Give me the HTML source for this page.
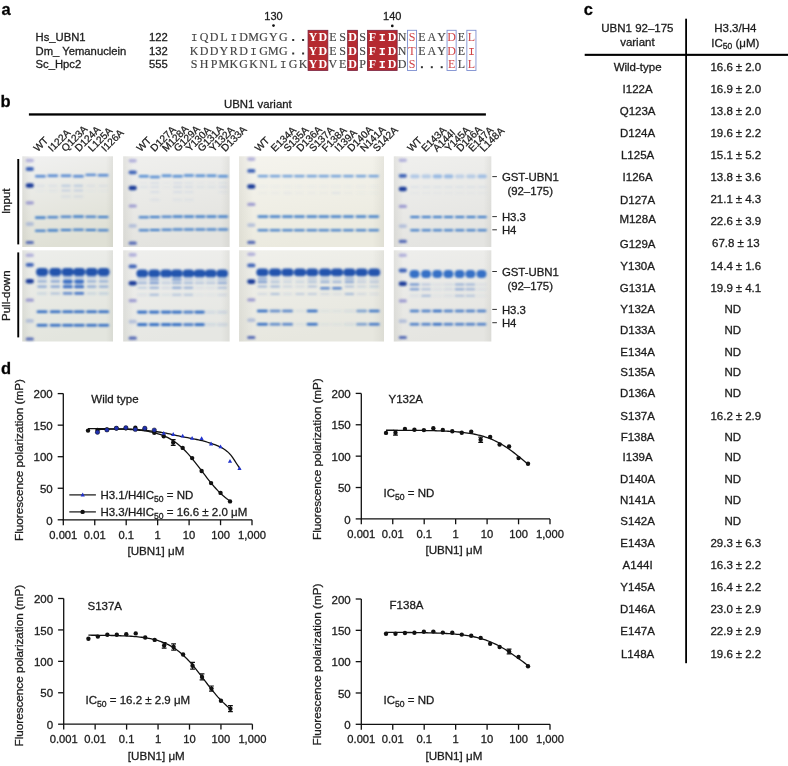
<!DOCTYPE html><html><head><meta charset="utf-8"><style>html,body{margin:0;padding:0;background:#fff;}svg{display:block;filter:blur(0.35px);}text{stroke:#1c1c1c;stroke-width:0.3px;}.ns text{stroke:none;}.lt text{stroke-width:0.25px;}</style></head><body>
<svg width="788" height="766" viewBox="0 0 788 766" font-family="'Liberation Sans', Arial, sans-serif" fill="#1c1c1c">
<defs><linearGradient id="vig" x1="0" y1="0" x2="1" y2="0"><stop offset="0" stop-color="#9a9a90" stop-opacity="0.16"/><stop offset="0.1" stop-color="#9a9a90" stop-opacity="0"/><stop offset="0.92" stop-color="#9a9a90" stop-opacity="0"/><stop offset="1" stop-color="#9a9a90" stop-opacity="0.14"/></linearGradient><filter id="blur" x="-20%" y="-20%" width="140%" height="140%"><feGaussianBlur stdDeviation="0.95"/></filter></defs>
<rect width="788" height="766" fill="#fff"/>
<text x="1.5" y="14.9" font-size="16.5" font-weight="bold" fill="#000">a</text>
<text x="35.6" y="41.2" font-size="11.25">Hs_UBN1</text>
<text x="167.9" y="41.2" font-size="11.25" text-anchor="end">122</text>
<text x="35.6" y="54.6" font-size="11.25">Dm_ Yemanuclein</text>
<text x="167.9" y="54.6" font-size="11.25" text-anchor="end">132</text>
<text x="35.6" y="68.0" font-size="11.25">Sc_Hpc2</text>
<text x="167.9" y="68.0" font-size="11.25" text-anchor="end">555</text>
<text x="273.5" y="19.8" font-size="11" text-anchor="middle">130</text>
<text x="392.3" y="20.0" font-size="11" text-anchor="middle">140</text>
<circle cx="273.5" cy="25.6" r="1.35" fill="#111"/>
<circle cx="392.3" cy="25.9" r="1.35" fill="#111"/>
<rect x="308.05" y="30.3" width="19.80" height="40.20" fill="#b52a30" stroke="#7a2440" stroke-width="0.8"/>
<rect x="347.65" y="30.3" width="9.90" height="40.20" fill="#b52a30" stroke="#7a2440" stroke-width="0.8"/>
<rect x="367.45" y="30.3" width="29.70" height="40.20" fill="#b52a30" stroke="#7a2440" stroke-width="0.8"/>
<rect x="407.45" y="30.3" width="9.10" height="40.20" fill="none" stroke="#7d8fd0" stroke-width="0.9"/>
<rect x="447.05" y="30.3" width="9.10" height="40.20" fill="none" stroke="#7d8fd0" stroke-width="0.9"/>
<rect x="466.85" y="30.3" width="9.10" height="40.20" fill="none" stroke="#7d8fd0" stroke-width="0.9"/>
<g transform="scale(1.0,1)" font-family="'Liberation Serif', 'Times New Roman', serif" font-size="12.0" text-anchor="middle" class="ns">
<text x="194.20" y="41.0" fill="#444" font-family="'Liberation Mono', 'Courier New', monospace" font-size="11.7">I</text>
<text x="204.10" y="41.0" fill="#444" style="stroke:#444;stroke-width:0.15px">Q</text>
<text x="214.00" y="41.0" fill="#444" style="stroke:#444;stroke-width:0.15px">D</text>
<text x="223.90" y="41.0" fill="#444" style="stroke:#444;stroke-width:0.15px">L</text>
<text x="233.80" y="41.0" fill="#444" font-family="'Liberation Mono', 'Courier New', monospace" font-size="11.7">I</text>
<text x="243.70" y="41.0" fill="#444" style="stroke:#444;stroke-width:0.15px">D</text>
<text x="253.60" y="41.0" fill="#444" style="stroke:#444;stroke-width:0.15px">M</text>
<text x="263.50" y="41.0" fill="#444" style="stroke:#444;stroke-width:0.15px">G</text>
<text x="273.40" y="41.0" fill="#444" style="stroke:#444;stroke-width:0.15px">Y</text>
<text x="283.30" y="41.0" fill="#444" style="stroke:#444;stroke-width:0.15px">G</text>
<rect x="292.20" y="39.00" width="2.0" height="2.0" fill="#333"/>
<rect x="302.10" y="39.00" width="2.0" height="2.0" fill="#333"/>
<text x="313.00" y="41.0" fill="#fff" font-weight="bold">Y</text>
<text x="322.90" y="41.0" fill="#fff" font-weight="bold">D</text>
<text x="332.80" y="41.0" fill="#444" style="stroke:#444;stroke-width:0.15px">E</text>
<text x="342.70" y="41.0" fill="#444" style="stroke:#444;stroke-width:0.15px">S</text>
<text x="352.60" y="41.0" fill="#fff" font-weight="bold">D</text>
<text x="362.50" y="41.0" fill="#444" style="stroke:#444;stroke-width:0.15px">S</text>
<text x="372.40" y="41.0" fill="#fff" font-weight="bold">F</text>
<text x="382.30" y="41.0" fill="#fff" font-weight="bold" font-family="'Liberation Mono', 'Courier New', monospace" font-size="11.7">I</text>
<text x="392.20" y="41.0" fill="#fff" font-weight="bold">D</text>
<text x="402.10" y="41.0" fill="#444" style="stroke:#444;stroke-width:0.15px">N</text>
<text x="412.00" y="41.0" fill="#d04448">S</text>
<text x="421.90" y="41.0" fill="#444" style="stroke:#444;stroke-width:0.15px">E</text>
<text x="431.80" y="41.0" fill="#444" style="stroke:#444;stroke-width:0.15px">A</text>
<text x="441.70" y="41.0" fill="#444" style="stroke:#444;stroke-width:0.15px">Y</text>
<text x="451.60" y="41.0" fill="#d04448">D</text>
<text x="461.50" y="41.0" fill="#444" style="stroke:#444;stroke-width:0.15px">E</text>
<text x="471.40" y="41.0" fill="#d04448">L</text>
<text x="194.20" y="54.5" fill="#444" style="stroke:#444;stroke-width:0.15px">K</text>
<text x="204.10" y="54.5" fill="#444" style="stroke:#444;stroke-width:0.15px">D</text>
<text x="214.00" y="54.5" fill="#444" style="stroke:#444;stroke-width:0.15px">D</text>
<text x="223.90" y="54.5" fill="#444" style="stroke:#444;stroke-width:0.15px">Y</text>
<text x="233.80" y="54.5" fill="#444" style="stroke:#444;stroke-width:0.15px">R</text>
<text x="243.70" y="54.5" fill="#444" style="stroke:#444;stroke-width:0.15px">D</text>
<text x="253.60" y="54.5" fill="#444" font-family="'Liberation Mono', 'Courier New', monospace" font-size="11.7">I</text>
<text x="263.50" y="54.5" fill="#444" style="stroke:#444;stroke-width:0.15px">G</text>
<text x="273.40" y="54.5" fill="#444" style="stroke:#444;stroke-width:0.15px">M</text>
<text x="283.30" y="54.5" fill="#444" style="stroke:#444;stroke-width:0.15px">G</text>
<rect x="292.20" y="52.50" width="2.0" height="2.0" fill="#333"/>
<rect x="302.10" y="52.50" width="2.0" height="2.0" fill="#333"/>
<text x="313.00" y="54.5" fill="#fff" font-weight="bold">Y</text>
<text x="322.90" y="54.5" fill="#fff" font-weight="bold">D</text>
<text x="332.80" y="54.5" fill="#444" style="stroke:#444;stroke-width:0.15px">E</text>
<text x="342.70" y="54.5" fill="#444" style="stroke:#444;stroke-width:0.15px">S</text>
<text x="352.60" y="54.5" fill="#fff" font-weight="bold">D</text>
<text x="362.50" y="54.5" fill="#444" style="stroke:#444;stroke-width:0.15px">S</text>
<text x="372.40" y="54.5" fill="#fff" font-weight="bold">F</text>
<text x="382.30" y="54.5" fill="#fff" font-weight="bold" font-family="'Liberation Mono', 'Courier New', monospace" font-size="11.7">I</text>
<text x="392.20" y="54.5" fill="#fff" font-weight="bold">D</text>
<text x="402.10" y="54.5" fill="#444" style="stroke:#444;stroke-width:0.15px">N</text>
<text x="412.00" y="54.5" fill="#d04448">T</text>
<text x="421.90" y="54.5" fill="#444" style="stroke:#444;stroke-width:0.15px">E</text>
<text x="431.80" y="54.5" fill="#444" style="stroke:#444;stroke-width:0.15px">A</text>
<text x="441.70" y="54.5" fill="#444" style="stroke:#444;stroke-width:0.15px">Y</text>
<text x="451.60" y="54.5" fill="#d04448">D</text>
<text x="461.50" y="54.5" fill="#444" style="stroke:#444;stroke-width:0.15px">E</text>
<text x="471.40" y="54.5" fill="#d04448" font-family="'Liberation Mono', 'Courier New', monospace" font-size="11.7">I</text>
<text x="194.20" y="68.2" fill="#444" style="stroke:#444;stroke-width:0.15px">S</text>
<text x="204.10" y="68.2" fill="#444" style="stroke:#444;stroke-width:0.15px">H</text>
<text x="214.00" y="68.2" fill="#444" style="stroke:#444;stroke-width:0.15px">P</text>
<text x="223.90" y="68.2" fill="#444" style="stroke:#444;stroke-width:0.15px">M</text>
<text x="233.80" y="68.2" fill="#444" style="stroke:#444;stroke-width:0.15px">K</text>
<text x="243.70" y="68.2" fill="#444" style="stroke:#444;stroke-width:0.15px">G</text>
<text x="253.60" y="68.2" fill="#444" style="stroke:#444;stroke-width:0.15px">K</text>
<text x="263.50" y="68.2" fill="#444" style="stroke:#444;stroke-width:0.15px">N</text>
<text x="273.40" y="68.2" fill="#444" style="stroke:#444;stroke-width:0.15px">L</text>
<text x="283.30" y="68.2" fill="#444" font-family="'Liberation Mono', 'Courier New', monospace" font-size="11.7">I</text>
<text x="293.20" y="68.2" fill="#444" style="stroke:#444;stroke-width:0.15px">G</text>
<text x="303.10" y="68.2" fill="#444" style="stroke:#444;stroke-width:0.15px">K</text>
<text x="313.00" y="68.2" fill="#fff" font-weight="bold">Y</text>
<text x="322.90" y="68.2" fill="#fff" font-weight="bold">D</text>
<text x="332.80" y="68.2" fill="#444" style="stroke:#444;stroke-width:0.15px">V</text>
<text x="342.70" y="68.2" fill="#444" style="stroke:#444;stroke-width:0.15px">E</text>
<text x="352.60" y="68.2" fill="#fff" font-weight="bold">D</text>
<text x="362.50" y="68.2" fill="#444" style="stroke:#444;stroke-width:0.15px">P</text>
<text x="372.40" y="68.2" fill="#fff" font-weight="bold">F</text>
<text x="382.30" y="68.2" fill="#fff" font-weight="bold" font-family="'Liberation Mono', 'Courier New', monospace" font-size="11.7">I</text>
<text x="392.20" y="68.2" fill="#fff" font-weight="bold">D</text>
<text x="402.10" y="68.2" fill="#444" style="stroke:#444;stroke-width:0.15px">D</text>
<text x="412.00" y="68.2" fill="#d04448">S</text>
<rect x="420.90" y="66.20" width="2.0" height="2.0" fill="#333"/>
<rect x="430.80" y="66.20" width="2.0" height="2.0" fill="#333"/>
<rect x="440.70" y="66.20" width="2.0" height="2.0" fill="#333"/>
<text x="451.60" y="68.2" fill="#d04448">E</text>
<text x="461.50" y="68.2" fill="#444" style="stroke:#444;stroke-width:0.15px">L</text>
<text x="471.40" y="68.2" fill="#d04448">L</text>
</g>
<text x="0.6" y="107.3" font-size="16.5" font-weight="bold" fill="#000">b</text>
<rect x="28.9" y="113.3" width="457" height="2.3" fill="#000"/>
<text x="224" y="108.4" font-size="11.4">UBN1 variant</text>
<g class="lt">
<text transform="translate(37.7,152.2) rotate(-45)" font-size="10.2">WT</text>
<text transform="translate(52.3,152.2) rotate(-45)" font-size="10.2">I122A</text>
<text transform="translate(65.6,152.2) rotate(-45)" font-size="10.2">Q123A</text>
<text transform="translate(79.0,152.2) rotate(-45)" font-size="10.2">D124A</text>
<text transform="translate(92.3,152.2) rotate(-45)" font-size="10.2">L125A</text>
<text transform="translate(105.6,152.2) rotate(-45)" font-size="10.2">I126A</text>
<text transform="translate(140.8,152.2) rotate(-45)" font-size="10.2">WT</text>
<text transform="translate(154.5,152.2) rotate(-45)" font-size="10.2">D127A</text>
<text transform="translate(166.3,152.2) rotate(-45)" font-size="10.2">M128A</text>
<text transform="translate(178.1,152.2) rotate(-45)" font-size="10.2">G129A</text>
<text transform="translate(189.9,152.2) rotate(-45)" font-size="10.2">Y130A</text>
<text transform="translate(201.7,152.2) rotate(-45)" font-size="10.2">G131A</text>
<text transform="translate(213.5,152.2) rotate(-45)" font-size="10.2">Y132A</text>
<text transform="translate(225.3,152.2) rotate(-45)" font-size="10.2">D133A</text>
<text transform="translate(258.9,152.2) rotate(-45)" font-size="10.2">WT</text>
<text transform="translate(275.1,152.2) rotate(-45)" font-size="10.2">E134A</text>
<text transform="translate(287.8,152.2) rotate(-45)" font-size="10.2">S135A</text>
<text transform="translate(300.6,152.2) rotate(-45)" font-size="10.2">D136A</text>
<text transform="translate(313.3,152.2) rotate(-45)" font-size="10.2">S137A</text>
<text transform="translate(326.1,152.2) rotate(-45)" font-size="10.2">F138A</text>
<text transform="translate(338.8,152.2) rotate(-45)" font-size="10.2">I139A</text>
<text transform="translate(351.5,152.2) rotate(-45)" font-size="10.2">D140A</text>
<text transform="translate(364.3,152.2) rotate(-45)" font-size="10.2">N141A</text>
<text transform="translate(377.0,152.2) rotate(-45)" font-size="10.2">S142A</text>
<text transform="translate(411.5,152.2) rotate(-45)" font-size="10.2">WT</text>
<text transform="translate(425.4,152.2) rotate(-45)" font-size="10.2">E143A</text>
<text transform="translate(437.1,152.2) rotate(-45)" font-size="10.2">A144I</text>
<text transform="translate(448.9,152.2) rotate(-45)" font-size="10.2">Y145A</text>
<text transform="translate(460.6,152.2) rotate(-45)" font-size="10.2">D146A</text>
<text transform="translate(472.4,152.2) rotate(-45)" font-size="10.2">E147A</text>
<text transform="translate(484.1,152.2) rotate(-45)" font-size="10.2">L148A</text>
</g>
<linearGradient id="bgg0in" x1="0" y1="0" x2="0.25" y2="1"><stop offset="0" stop-color="#f1f1f1"/><stop offset="1" stop-color="#dfe0d5"/></linearGradient>
<rect x="22.3" y="156.3" width="90.7" height="90.7" fill="url(#bgg0in)"/>
<rect x="22.3" y="156.3" width="90.7" height="90.7" fill="url(#vig)"/>
<g filter="url(#blur)">
<rect x="25.70" y="158.70" width="8.20" height="3.60" rx="1.80" fill="#8c8ad0" opacity="0.60"/>
<rect x="25.70" y="167.10" width="8.20" height="3.80" rx="1.90" fill="#2f55b2" opacity="0.90"/>
<rect x="25.70" y="183.20" width="8.20" height="4.60" rx="2.30" fill="#1c3c9a" opacity="1.00"/>
<rect x="25.70" y="201.20" width="8.20" height="3.20" rx="1.60" fill="#7d7cc8" opacity="0.70"/>
<rect x="25.70" y="222.10" width="8.20" height="3.80" rx="1.90" fill="#8aa0d4" opacity="0.55"/>
<rect x="25.70" y="240.90" width="8.20" height="3.20" rx="1.60" fill="#3d55ae" opacity="0.85"/>
<rect x="35.00" y="175.09" width="10.80" height="2.43" rx="1.22" fill="#4a80d0" opacity="0.95"/>
<rect x="35.65" y="184.80" width="9.50" height="2.00" rx="1.00" fill="#6f95d4" opacity="0.12"/>
<rect x="35.65" y="189.60" width="9.50" height="2.00" rx="1.00" fill="#6f95d4" opacity="0.05"/>

<rect x="34.90" y="216.55" width="11.00" height="2.10" rx="1.05" fill="#2f72c6" opacity="1.00"/>
<rect x="34.90" y="229.75" width="11.00" height="2.10" rx="1.05" fill="#2f72c6" opacity="1.00"/>
<rect x="47.40" y="174.48" width="10.80" height="2.43" rx="1.22" fill="#4a80d0" opacity="0.95"/>
<rect x="48.05" y="184.80" width="9.50" height="2.00" rx="1.00" fill="#6f95d4" opacity="0.12"/>
<rect x="48.05" y="189.60" width="9.50" height="2.00" rx="1.00" fill="#6f95d4" opacity="0.08"/>

<rect x="47.30" y="216.15" width="11.00" height="2.10" rx="1.05" fill="#2f72c6" opacity="1.00"/>
<rect x="47.30" y="229.35" width="11.00" height="2.10" rx="1.05" fill="#2f72c6" opacity="1.00"/>
<rect x="60.60" y="174.48" width="10.80" height="2.43" rx="1.22" fill="#4a80d0" opacity="0.95"/>
<rect x="61.25" y="184.80" width="9.50" height="2.00" rx="1.00" fill="#6f95d4" opacity="0.40"/>
<rect x="61.25" y="189.60" width="9.50" height="2.00" rx="1.00" fill="#6f95d4" opacity="0.30"/>
<rect x="61.25" y="195.60" width="9.50" height="2.00" rx="1.00" fill="#6f95d4" opacity="0.15"/>
<rect x="60.50" y="215.75" width="11.00" height="2.10" rx="1.05" fill="#2f72c6" opacity="1.00"/>
<rect x="60.50" y="228.95" width="11.00" height="2.10" rx="1.05" fill="#2f72c6" opacity="1.00"/>
<rect x="73.00" y="174.98" width="10.80" height="2.43" rx="1.22" fill="#4a80d0" opacity="0.95"/>
<rect x="73.65" y="184.80" width="9.50" height="2.00" rx="1.00" fill="#6f95d4" opacity="0.40"/>
<rect x="73.65" y="189.60" width="9.50" height="2.00" rx="1.00" fill="#6f95d4" opacity="0.30"/>
<rect x="73.65" y="195.60" width="9.50" height="2.00" rx="1.00" fill="#6f95d4" opacity="0.18"/>
<rect x="72.90" y="215.55" width="11.00" height="2.10" rx="1.05" fill="#2f72c6" opacity="1.00"/>
<rect x="72.90" y="228.75" width="11.00" height="2.10" rx="1.05" fill="#2f72c6" opacity="1.00"/>
<rect x="85.40" y="173.69" width="10.80" height="2.43" rx="1.22" fill="#4a80d0" opacity="0.95"/>
<rect x="86.05" y="184.80" width="9.50" height="2.00" rx="1.00" fill="#6f95d4" opacity="0.12"/>
<rect x="86.05" y="189.60" width="9.50" height="2.00" rx="1.00" fill="#6f95d4" opacity="0.05"/>

<rect x="85.30" y="215.75" width="11.00" height="2.10" rx="1.05" fill="#2f72c6" opacity="1.00"/>
<rect x="85.30" y="228.95" width="11.00" height="2.10" rx="1.05" fill="#2f72c6" opacity="1.00"/>
<rect x="97.70" y="174.09" width="10.80" height="2.43" rx="1.22" fill="#4a80d0" opacity="0.95"/>
<rect x="98.35" y="184.80" width="9.50" height="2.00" rx="1.00" fill="#6f95d4" opacity="0.12"/>
<rect x="98.35" y="189.60" width="9.50" height="2.00" rx="1.00" fill="#6f95d4" opacity="0.05"/>

<rect x="97.60" y="215.95" width="11.00" height="2.10" rx="1.05" fill="#2f72c6" opacity="1.00"/>
<rect x="97.60" y="229.25" width="11.00" height="2.10" rx="1.05" fill="#2f72c6" opacity="1.00"/>
</g>
<linearGradient id="bgg0pd" x1="0" y1="0" x2="0.25" y2="1"><stop offset="0" stop-color="#edeeeb"/><stop offset="1" stop-color="#e3e5de"/></linearGradient>
<rect x="22.3" y="250.3" width="90.7" height="91.2" fill="url(#bgg0pd)"/>
<rect x="22.3" y="250.3" width="90.7" height="91.2" fill="url(#vig)"/>
<g filter="url(#blur)">
<rect x="25.70" y="253.40" width="8.20" height="3.60" rx="1.80" fill="#8c8ad0" opacity="0.60"/>
<rect x="25.70" y="262.90" width="8.20" height="3.80" rx="1.90" fill="#2f55b2" opacity="0.90"/>
<rect x="25.70" y="279.00" width="8.20" height="4.60" rx="2.30" fill="#1c3c9a" opacity="1.00"/>
<rect x="25.70" y="298.60" width="8.20" height="3.20" rx="1.60" fill="#7d7cc8" opacity="0.70"/>
<rect x="25.70" y="319.00" width="8.20" height="3.80" rx="1.90" fill="#8aa0d4" opacity="0.55"/>
<rect x="25.70" y="337.40" width="8.20" height="3.20" rx="1.60" fill="#3d55ae" opacity="0.85"/>
<rect x="37.20" y="276.30" width="9.80" height="2.00" rx="1.00" fill="#3a6ec4" opacity="0.35"/>
<rect x="37.20" y="280.20" width="9.80" height="2.20" rx="1.10" fill="#3a6ec4" opacity="0.50"/>
<rect x="37.20" y="285.50" width="9.80" height="2.20" rx="1.10" fill="#3a6ec4" opacity="0.55"/>
<rect x="37.20" y="292.40" width="9.80" height="2.00" rx="1.00" fill="#3a6ec4" opacity="0.20"/>



<rect x="36.00" y="268.10" width="12.20" height="7.80" rx="3.90" fill="#2152ac" opacity="1.00"/>
<rect x="36.60" y="310.50" width="11.00" height="2.60" rx="1.30" fill="#2a67c2" opacity="1.00"/>
<rect x="36.60" y="324.00" width="11.00" height="2.60" rx="1.30" fill="#2a67c2" opacity="1.00"/>
<rect x="50.40" y="276.30" width="9.80" height="2.00" rx="1.00" fill="#3a6ec4" opacity="0.35"/>
<rect x="50.40" y="280.20" width="9.80" height="2.20" rx="1.10" fill="#3a6ec4" opacity="0.60"/>
<rect x="50.40" y="285.50" width="9.80" height="2.20" rx="1.10" fill="#3a6ec4" opacity="0.60"/>
<rect x="50.40" y="292.40" width="9.80" height="2.00" rx="1.00" fill="#3a6ec4" opacity="0.35"/>



<rect x="49.20" y="268.10" width="12.20" height="7.80" rx="3.90" fill="#2152ac" opacity="1.00"/>
<rect x="49.80" y="310.50" width="11.00" height="2.60" rx="1.30" fill="#2a67c2" opacity="1.00"/>
<rect x="49.80" y="324.00" width="11.00" height="2.60" rx="1.30" fill="#2a67c2" opacity="1.00"/>
<rect x="62.80" y="276.30" width="9.80" height="2.00" rx="1.00" fill="#3a6ec4" opacity="0.35"/>
<rect x="62.80" y="280.20" width="9.80" height="2.20" rx="1.10" fill="#3a6ec4" opacity="1.00"/>
<rect x="62.80" y="285.50" width="9.80" height="2.20" rx="1.10" fill="#3a6ec4" opacity="0.95"/>
<rect x="62.80" y="292.40" width="9.80" height="2.00" rx="1.00" fill="#3a6ec4" opacity="0.50"/>
<rect x="62.80" y="279.40" width="9.80" height="4.40" rx="2.20" fill="#3a6ec4" opacity="1.00"/>
<rect x="62.80" y="285.30" width="9.80" height="3.00" rx="1.50" fill="#3a6ec4" opacity="1.00"/>
<rect x="62.80" y="292.00" width="9.80" height="2.40" rx="1.20" fill="#3a6ec4" opacity="0.60"/>
<rect x="61.60" y="268.10" width="12.20" height="7.80" rx="3.90" fill="#2152ac" opacity="1.00"/>
<rect x="62.20" y="310.50" width="11.00" height="2.60" rx="1.30" fill="#2a67c2" opacity="1.00"/>
<rect x="62.20" y="324.00" width="11.00" height="2.60" rx="1.30" fill="#2a67c2" opacity="1.00"/>
<rect x="74.30" y="276.30" width="9.80" height="2.00" rx="1.00" fill="#3a6ec4" opacity="0.35"/>
<rect x="74.30" y="280.20" width="9.80" height="2.20" rx="1.10" fill="#3a6ec4" opacity="1.00"/>
<rect x="74.30" y="285.50" width="9.80" height="2.20" rx="1.10" fill="#3a6ec4" opacity="1.00"/>
<rect x="74.30" y="292.40" width="9.80" height="2.00" rx="1.00" fill="#3a6ec4" opacity="0.70"/>
<rect x="74.30" y="279.40" width="9.80" height="4.40" rx="2.20" fill="#3a6ec4" opacity="1.00"/>
<rect x="74.30" y="285.30" width="9.80" height="3.00" rx="1.50" fill="#3a6ec4" opacity="1.00"/>
<rect x="74.30" y="292.00" width="9.80" height="2.40" rx="1.20" fill="#3a6ec4" opacity="0.90"/>
<rect x="73.10" y="268.10" width="12.20" height="7.80" rx="3.90" fill="#2152ac" opacity="1.00"/>
<rect x="73.70" y="310.50" width="11.00" height="2.60" rx="1.30" fill="#2a67c2" opacity="1.00"/>
<rect x="73.70" y="324.00" width="11.00" height="2.60" rx="1.30" fill="#2a67c2" opacity="1.00"/>
<rect x="86.70" y="276.30" width="9.80" height="2.00" rx="1.00" fill="#3a6ec4" opacity="0.35"/>
<rect x="86.70" y="280.20" width="9.80" height="2.20" rx="1.10" fill="#3a6ec4" opacity="0.50"/>
<rect x="86.70" y="285.50" width="9.80" height="2.20" rx="1.10" fill="#3a6ec4" opacity="0.55"/>
<rect x="86.70" y="292.40" width="9.80" height="2.00" rx="1.00" fill="#3a6ec4" opacity="0.20"/>



<rect x="85.50" y="268.10" width="12.20" height="7.80" rx="3.90" fill="#2152ac" opacity="1.00"/>
<rect x="86.10" y="310.50" width="11.00" height="2.60" rx="1.30" fill="#2a67c2" opacity="1.00"/>
<rect x="86.10" y="324.00" width="11.00" height="2.60" rx="1.30" fill="#2a67c2" opacity="1.00"/>
<rect x="98.70" y="276.30" width="9.80" height="2.00" rx="1.00" fill="#3a6ec4" opacity="0.35"/>
<rect x="98.70" y="280.20" width="9.80" height="2.20" rx="1.10" fill="#3a6ec4" opacity="0.50"/>
<rect x="98.70" y="285.50" width="9.80" height="2.20" rx="1.10" fill="#3a6ec4" opacity="0.50"/>
<rect x="98.70" y="292.40" width="9.80" height="2.00" rx="1.00" fill="#3a6ec4" opacity="0.25"/>



<rect x="97.50" y="268.10" width="12.20" height="7.80" rx="3.90" fill="#2152ac" opacity="1.00"/>
<rect x="98.10" y="310.50" width="11.00" height="2.60" rx="1.30" fill="#2a67c2" opacity="1.00"/>
<rect x="98.10" y="324.00" width="11.00" height="2.60" rx="1.30" fill="#2a67c2" opacity="1.00"/>
</g>
<linearGradient id="bgg1in" x1="0" y1="0" x2="0.25" y2="1"><stop offset="0" stop-color="#f0f0ee"/><stop offset="1" stop-color="#e3e3df"/></linearGradient>
<rect x="123.2" y="156.3" width="106.4" height="90.7" fill="url(#bgg1in)"/>
<rect x="123.2" y="156.3" width="106.4" height="90.7" fill="url(#vig)"/>
<g filter="url(#blur)">
<rect x="128.60" y="158.90" width="8.20" height="3.60" rx="1.80" fill="#8c8ad0" opacity="0.60"/>
<rect x="128.60" y="170.40" width="8.20" height="3.80" rx="1.90" fill="#2f55b2" opacity="0.90"/>
<rect x="128.60" y="185.70" width="8.20" height="4.60" rx="2.30" fill="#1c3c9a" opacity="1.00"/>
<rect x="128.60" y="204.40" width="8.20" height="3.20" rx="1.60" fill="#7d7cc8" opacity="0.70"/>
<rect x="128.60" y="224.00" width="8.20" height="3.80" rx="1.90" fill="#8aa0d4" opacity="0.55"/>
<rect x="128.60" y="241.60" width="8.20" height="3.20" rx="1.60" fill="#3d55ae" opacity="0.85"/>
<rect x="138.70" y="174.98" width="10.20" height="2.43" rx="1.22" fill="#4a86d2" opacity="0.95"/>
<rect x="139.05" y="182.00" width="9.50" height="2.00" rx="1.00" fill="#6f95d4" opacity="0.05"/>
<rect x="139.05" y="186.00" width="9.50" height="2.00" rx="1.00" fill="#6f95d4" opacity="0.10"/>


<rect x="138.60" y="216.25" width="10.40" height="2.10" rx="1.05" fill="#2f72c6" opacity="1.00"/>
<rect x="138.60" y="229.15" width="10.40" height="2.10" rx="1.05" fill="#2f72c6" opacity="1.00"/>
<rect x="149.80" y="175.78" width="10.20" height="2.43" rx="1.22" fill="#4a86d2" opacity="0.95"/>
<rect x="150.15" y="182.00" width="9.50" height="2.00" rx="1.00" fill="#6f95d4" opacity="0.15"/>
<rect x="150.15" y="186.00" width="9.50" height="2.00" rx="1.00" fill="#6f95d4" opacity="0.15"/>
<rect x="150.15" y="191.00" width="9.50" height="2.00" rx="1.00" fill="#6f95d4" opacity="0.15"/>
<rect x="150.15" y="198.70" width="9.50" height="2.00" rx="1.00" fill="#6f95d4" opacity="0.12"/>
<rect x="149.70" y="215.95" width="10.40" height="2.10" rx="1.05" fill="#2f72c6" opacity="1.00"/>
<rect x="149.70" y="228.95" width="10.40" height="2.10" rx="1.05" fill="#2f72c6" opacity="1.00"/>
<rect x="161.50" y="174.59" width="10.20" height="2.43" rx="1.22" fill="#4a86d2" opacity="0.95"/>
<rect x="161.85" y="182.00" width="9.50" height="2.00" rx="1.00" fill="#6f95d4" opacity="0.05"/>
<rect x="161.85" y="186.00" width="9.50" height="2.00" rx="1.00" fill="#6f95d4" opacity="0.05"/>


<rect x="161.40" y="215.75" width="10.40" height="2.10" rx="1.05" fill="#2f72c6" opacity="1.00"/>
<rect x="161.40" y="228.65" width="10.40" height="2.10" rx="1.05" fill="#2f72c6" opacity="1.00"/>
<rect x="172.60" y="174.98" width="10.20" height="2.43" rx="1.22" fill="#4a86d2" opacity="0.95"/>
<rect x="172.95" y="182.00" width="9.50" height="2.00" rx="1.00" fill="#6f95d4" opacity="0.15"/>
<rect x="172.95" y="186.00" width="9.50" height="2.00" rx="1.00" fill="#6f95d4" opacity="0.20"/>
<rect x="172.95" y="191.00" width="9.50" height="2.00" rx="1.00" fill="#6f95d4" opacity="0.15"/>
<rect x="172.95" y="198.70" width="9.50" height="2.00" rx="1.00" fill="#6f95d4" opacity="0.10"/>
<rect x="172.50" y="215.55" width="10.40" height="2.10" rx="1.05" fill="#2f72c6" opacity="1.00"/>
<rect x="172.50" y="228.45" width="10.40" height="2.10" rx="1.05" fill="#2f72c6" opacity="1.00"/>
<rect x="183.80" y="174.28" width="10.20" height="2.43" rx="1.22" fill="#4a86d2" opacity="0.95"/>
<rect x="184.15" y="182.00" width="9.50" height="2.00" rx="1.00" fill="#6f95d4" opacity="0.10"/>
<rect x="184.15" y="186.00" width="9.50" height="2.00" rx="1.00" fill="#6f95d4" opacity="0.15"/>
<rect x="184.15" y="191.00" width="9.50" height="2.00" rx="1.00" fill="#6f95d4" opacity="0.12"/>
<rect x="184.15" y="198.70" width="9.50" height="2.00" rx="1.00" fill="#6f95d4" opacity="0.10"/>
<rect x="183.70" y="215.55" width="10.40" height="2.10" rx="1.05" fill="#2f72c6" opacity="1.00"/>
<rect x="183.70" y="228.45" width="10.40" height="2.10" rx="1.05" fill="#2f72c6" opacity="1.00"/>
<rect x="195.20" y="174.59" width="10.20" height="2.43" rx="1.22" fill="#4a86d2" opacity="0.95"/>
<rect x="195.55" y="182.00" width="9.50" height="2.00" rx="1.00" fill="#6f95d4" opacity="0.05"/>
<rect x="195.55" y="186.00" width="9.50" height="2.00" rx="1.00" fill="#6f95d4" opacity="0.10"/>


<rect x="195.10" y="215.55" width="10.40" height="2.10" rx="1.05" fill="#2f72c6" opacity="1.00"/>
<rect x="195.10" y="228.45" width="10.40" height="2.10" rx="1.05" fill="#2f72c6" opacity="1.00"/>
<rect x="206.40" y="174.59" width="10.20" height="2.43" rx="1.22" fill="#4a86d2" opacity="0.95"/>
<rect x="206.75" y="182.00" width="9.50" height="2.00" rx="1.00" fill="#6f95d4" opacity="0.05"/>
<rect x="206.75" y="186.00" width="9.50" height="2.00" rx="1.00" fill="#6f95d4" opacity="0.10"/>


<rect x="206.30" y="215.55" width="10.40" height="2.10" rx="1.05" fill="#2f72c6" opacity="1.00"/>
<rect x="206.30" y="228.45" width="10.40" height="2.10" rx="1.05" fill="#2f72c6" opacity="1.00"/>
<rect x="217.90" y="175.09" width="10.20" height="2.43" rx="1.22" fill="#4a86d2" opacity="0.95"/>
<rect x="218.25" y="182.00" width="9.50" height="2.00" rx="1.00" fill="#6f95d4" opacity="0.10"/>
<rect x="218.25" y="186.00" width="9.50" height="2.00" rx="1.00" fill="#6f95d4" opacity="0.15"/>
<rect x="218.25" y="191.00" width="9.50" height="2.00" rx="1.00" fill="#6f95d4" opacity="0.08"/>

<rect x="217.80" y="215.55" width="10.40" height="2.10" rx="1.05" fill="#2f72c6" opacity="1.00"/>
<rect x="217.80" y="228.45" width="10.40" height="2.10" rx="1.05" fill="#2f72c6" opacity="1.00"/>
</g>
<linearGradient id="bgg1pd" x1="0" y1="0" x2="0.25" y2="1"><stop offset="0" stop-color="#efefed"/><stop offset="1" stop-color="#e6e7e3"/></linearGradient>
<rect x="123.2" y="250.3" width="106.4" height="91.2" fill="url(#bgg1pd)"/>
<rect x="123.2" y="250.3" width="106.4" height="91.2" fill="url(#vig)"/>
<g filter="url(#blur)">
<rect x="128.60" y="253.10" width="8.20" height="3.60" rx="1.80" fill="#8c8ad0" opacity="0.60"/>
<rect x="128.60" y="264.50" width="8.20" height="3.80" rx="1.90" fill="#2f55b2" opacity="0.90"/>
<rect x="128.60" y="280.90" width="8.20" height="4.60" rx="2.30" fill="#1c3c9a" opacity="1.00"/>
<rect x="128.60" y="299.10" width="8.20" height="3.20" rx="1.60" fill="#7d7cc8" opacity="0.70"/>
<rect x="128.60" y="319.80" width="8.20" height="3.80" rx="1.90" fill="#8aa0d4" opacity="0.55"/>
<rect x="128.60" y="336.60" width="8.20" height="3.20" rx="1.60" fill="#3d55ae" opacity="0.85"/>
<rect x="137.30" y="278.40" width="9.80" height="2.00" rx="1.00" fill="#3a6ec4" opacity="0.30"/>
<rect x="137.30" y="281.90" width="9.80" height="2.00" rx="1.00" fill="#3a6ec4" opacity="0.45"/>
<rect x="137.30" y="286.80" width="9.80" height="2.00" rx="1.00" fill="#3a6ec4" opacity="0.25"/>
<rect x="137.30" y="293.80" width="9.80" height="2.00" rx="1.00" fill="#3a6ec4" opacity="0.10"/>
<rect x="136.40" y="269.50" width="11.60" height="7.80" rx="3.90" fill="#2354ae" opacity="1.00"/>
<rect x="137.00" y="310.80" width="10.40" height="2.60" rx="1.30" fill="#2a67c2" opacity="1.00"/>
<rect x="137.00" y="323.30" width="10.40" height="2.60" rx="1.30" fill="#2a67c2" opacity="1.00"/>
<rect x="149.30" y="278.40" width="9.80" height="2.00" rx="1.00" fill="#3a6ec4" opacity="0.70"/>
<rect x="149.30" y="281.90" width="9.80" height="2.00" rx="1.00" fill="#3a6ec4" opacity="0.70"/>
<rect x="149.30" y="286.80" width="9.80" height="2.00" rx="1.00" fill="#3a6ec4" opacity="0.50"/>
<rect x="149.30" y="293.80" width="9.80" height="2.00" rx="1.00" fill="#3a6ec4" opacity="0.40"/>
<rect x="148.40" y="269.50" width="11.60" height="7.80" rx="3.90" fill="#2354ae" opacity="1.00"/>
<rect x="149.00" y="310.80" width="10.40" height="2.60" rx="1.30" fill="#2a67c2" opacity="1.00"/>
<rect x="149.00" y="323.30" width="10.40" height="2.60" rx="1.30" fill="#2a67c2" opacity="1.00"/>
<rect x="161.20" y="278.40" width="9.80" height="2.00" rx="1.00" fill="#3a6ec4" opacity="0.15"/>
<rect x="161.20" y="281.90" width="9.80" height="2.00" rx="1.00" fill="#3a6ec4" opacity="0.25"/>
<rect x="161.20" y="286.80" width="9.80" height="2.00" rx="1.00" fill="#3a6ec4" opacity="0.15"/>
<rect x="161.20" y="293.80" width="9.80" height="2.00" rx="1.00" fill="#3a6ec4" opacity="0.08"/>
<rect x="160.30" y="269.50" width="11.60" height="7.80" rx="3.90" fill="#2354ae" opacity="1.00"/>
<rect x="160.90" y="310.80" width="10.40" height="2.60" rx="1.30" fill="#2a67c2" opacity="1.00"/>
<rect x="160.90" y="323.30" width="10.40" height="2.60" rx="1.30" fill="#2a67c2" opacity="1.00"/>
<rect x="171.90" y="278.40" width="9.80" height="2.00" rx="1.00" fill="#3a6ec4" opacity="0.75"/>
<rect x="171.90" y="281.90" width="9.80" height="2.00" rx="1.00" fill="#3a6ec4" opacity="0.50"/>
<rect x="171.90" y="286.80" width="9.80" height="2.00" rx="1.00" fill="#3a6ec4" opacity="0.60"/>
<rect x="171.90" y="293.80" width="9.80" height="2.00" rx="1.00" fill="#3a6ec4" opacity="0.30"/>
<rect x="171.00" y="269.50" width="11.60" height="7.80" rx="3.90" fill="#2354ae" opacity="1.00"/>
<rect x="171.60" y="310.80" width="10.40" height="2.60" rx="1.30" fill="#2a67c2" opacity="1.00"/>
<rect x="171.60" y="323.30" width="10.40" height="2.60" rx="1.30" fill="#2a67c2" opacity="1.00"/>
<rect x="183.50" y="278.40" width="9.80" height="2.00" rx="1.00" fill="#3a6ec4" opacity="0.30"/>
<rect x="183.50" y="281.90" width="9.80" height="2.00" rx="1.00" fill="#3a6ec4" opacity="0.40"/>
<rect x="183.50" y="286.80" width="9.80" height="2.00" rx="1.00" fill="#3a6ec4" opacity="0.50"/>
<rect x="183.50" y="293.80" width="9.80" height="2.00" rx="1.00" fill="#3a6ec4" opacity="0.30"/>
<rect x="182.60" y="269.50" width="11.60" height="7.80" rx="3.90" fill="#2354ae" opacity="1.00"/>
<rect x="183.20" y="310.80" width="10.40" height="2.60" rx="1.30" fill="#2a67c2" opacity="0.85"/>
<rect x="183.20" y="323.30" width="10.40" height="2.60" rx="1.30" fill="#2a67c2" opacity="0.85"/>
<rect x="194.70" y="278.40" width="9.80" height="2.00" rx="1.00" fill="#3a6ec4" opacity="0.20"/>
<rect x="194.70" y="281.90" width="9.80" height="2.00" rx="1.00" fill="#3a6ec4" opacity="0.30"/>
<rect x="194.70" y="286.80" width="9.80" height="2.00" rx="1.00" fill="#3a6ec4" opacity="0.10"/>
<rect x="194.70" y="293.80" width="9.80" height="2.00" rx="1.00" fill="#3a6ec4" opacity="0.05"/>
<rect x="193.80" y="269.50" width="11.60" height="7.80" rx="3.90" fill="#2354ae" opacity="1.00"/>
<rect x="194.40" y="310.80" width="10.40" height="2.60" rx="1.30" fill="#2a67c2" opacity="1.00"/>
<rect x="194.40" y="323.30" width="10.40" height="2.60" rx="1.30" fill="#2a67c2" opacity="1.00"/>
<rect x="205.80" y="278.40" width="9.80" height="2.00" rx="1.00" fill="#3a6ec4" opacity="0.20"/>
<rect x="205.80" y="281.90" width="9.80" height="2.00" rx="1.00" fill="#3a6ec4" opacity="0.30"/>
<rect x="205.80" y="286.80" width="9.80" height="2.00" rx="1.00" fill="#3a6ec4" opacity="0.10"/>
<rect x="205.80" y="293.80" width="9.80" height="2.00" rx="1.00" fill="#3a6ec4" opacity="0.05"/>
<rect x="204.90" y="269.50" width="11.60" height="7.80" rx="3.90" fill="#2354ae" opacity="1.00"/>
<rect x="205.50" y="310.80" width="10.40" height="2.60" rx="1.30" fill="#2a67c2" opacity="0.12"/>
<rect x="205.50" y="323.30" width="10.40" height="2.60" rx="1.30" fill="#2a67c2" opacity="0.12"/>
<rect x="217.30" y="278.40" width="9.80" height="2.00" rx="1.00" fill="#3a6ec4" opacity="0.40"/>
<rect x="217.30" y="281.90" width="9.80" height="2.00" rx="1.00" fill="#3a6ec4" opacity="0.55"/>
<rect x="217.30" y="286.80" width="9.80" height="2.00" rx="1.00" fill="#3a6ec4" opacity="0.35"/>
<rect x="217.30" y="293.80" width="9.80" height="2.00" rx="1.00" fill="#3a6ec4" opacity="0.15"/>
<rect x="216.40" y="269.50" width="11.60" height="7.80" rx="3.90" fill="#2354ae" opacity="1.00"/>
<rect x="217.00" y="310.80" width="10.40" height="2.60" rx="1.30" fill="#2a67c2" opacity="0.15"/>
<rect x="217.00" y="323.30" width="10.40" height="2.60" rx="1.30" fill="#2a67c2" opacity="0.15"/>
</g>
<linearGradient id="bgg2in" x1="0" y1="0" x2="0.25" y2="1"><stop offset="0" stop-color="#f5f4ee"/><stop offset="1" stop-color="#ebeadf"/></linearGradient>
<rect x="239.1" y="156.3" width="144.9" height="90.7" fill="url(#bgg2in)"/>
<rect x="239.1" y="156.3" width="144.9" height="90.7" fill="url(#vig)"/>
<g filter="url(#blur)">
<rect x="247.20" y="157.30" width="8.20" height="3.60" rx="1.80" fill="#8c8ad0" opacity="0.60"/>
<rect x="247.20" y="169.00" width="8.20" height="3.80" rx="1.90" fill="#2f55b2" opacity="0.90"/>
<rect x="247.20" y="184.20" width="8.20" height="4.60" rx="2.30" fill="#1c3c9a" opacity="1.00"/>
<rect x="247.20" y="202.80" width="8.20" height="3.20" rx="1.60" fill="#7d7cc8" opacity="0.70"/>
<rect x="247.20" y="223.20" width="8.20" height="3.80" rx="1.90" fill="#8aa0d4" opacity="0.55"/>
<rect x="247.20" y="240.80" width="8.20" height="3.20" rx="1.60" fill="#3d55ae" opacity="0.85"/>
<rect x="257.50" y="174.88" width="10.80" height="2.25" rx="1.12" fill="#5b92d6" opacity="0.90"/>
<rect x="258.15" y="185.50" width="9.50" height="2.00" rx="1.00" fill="#6f95d4" opacity="0.05"/>
<rect x="258.15" y="192.00" width="9.50" height="2.00" rx="1.00" fill="#6f95d4" opacity="0.06"/>
<rect x="257.40" y="215.55" width="11.00" height="2.10" rx="1.05" fill="#2f72c6" opacity="1.00"/>
<rect x="257.40" y="229.15" width="11.00" height="2.10" rx="1.05" fill="#2f72c6" opacity="1.00"/>
<rect x="269.70" y="174.88" width="10.80" height="2.25" rx="1.12" fill="#5b92d6" opacity="0.90"/>
<rect x="270.35" y="185.50" width="9.50" height="2.00" rx="1.00" fill="#6f95d4" opacity="0.05"/>
<rect x="270.35" y="192.00" width="9.50" height="2.00" rx="1.00" fill="#6f95d4" opacity="0.05"/>
<rect x="269.60" y="215.55" width="11.00" height="2.10" rx="1.05" fill="#2f72c6" opacity="1.00"/>
<rect x="269.60" y="229.15" width="11.00" height="2.10" rx="1.05" fill="#2f72c6" opacity="1.00"/>
<rect x="282.10" y="174.88" width="10.80" height="2.25" rx="1.12" fill="#5b92d6" opacity="0.90"/>
<rect x="282.75" y="185.50" width="9.50" height="2.00" rx="1.00" fill="#6f95d4" opacity="0.05"/>
<rect x="282.75" y="192.00" width="9.50" height="2.00" rx="1.00" fill="#6f95d4" opacity="0.08"/>
<rect x="282.00" y="215.55" width="11.00" height="2.10" rx="1.05" fill="#2f72c6" opacity="1.00"/>
<rect x="282.00" y="229.15" width="11.00" height="2.10" rx="1.05" fill="#2f72c6" opacity="1.00"/>
<rect x="294.00" y="174.88" width="10.80" height="2.25" rx="1.12" fill="#5b92d6" opacity="0.90"/>
<rect x="294.65" y="185.50" width="9.50" height="2.00" rx="1.00" fill="#6f95d4" opacity="0.05"/>
<rect x="294.65" y="192.00" width="9.50" height="2.00" rx="1.00" fill="#6f95d4" opacity="0.05"/>
<rect x="293.90" y="215.55" width="11.00" height="2.10" rx="1.05" fill="#2f72c6" opacity="1.00"/>
<rect x="293.90" y="229.15" width="11.00" height="2.10" rx="1.05" fill="#2f72c6" opacity="1.00"/>
<rect x="306.40" y="174.88" width="10.80" height="2.25" rx="1.12" fill="#5b92d6" opacity="0.90"/>
<rect x="307.05" y="185.50" width="9.50" height="2.00" rx="1.00" fill="#6f95d4" opacity="0.05"/>
<rect x="307.05" y="192.00" width="9.50" height="2.00" rx="1.00" fill="#6f95d4" opacity="0.05"/>
<rect x="306.30" y="215.55" width="11.00" height="2.10" rx="1.05" fill="#2f72c6" opacity="1.00"/>
<rect x="306.30" y="229.15" width="11.00" height="2.10" rx="1.05" fill="#2f72c6" opacity="1.00"/>
<rect x="318.40" y="174.88" width="10.80" height="2.25" rx="1.12" fill="#5b92d6" opacity="0.90"/>
<rect x="319.05" y="185.50" width="9.50" height="2.00" rx="1.00" fill="#6f95d4" opacity="0.05"/>
<rect x="319.05" y="192.00" width="9.50" height="2.00" rx="1.00" fill="#6f95d4" opacity="0.06"/>
<rect x="318.30" y="215.55" width="11.00" height="2.10" rx="1.05" fill="#2f72c6" opacity="1.00"/>
<rect x="318.30" y="229.15" width="11.00" height="2.10" rx="1.05" fill="#2f72c6" opacity="1.00"/>
<rect x="330.60" y="174.88" width="10.80" height="2.25" rx="1.12" fill="#5b92d6" opacity="0.90"/>
<rect x="331.25" y="185.50" width="9.50" height="2.00" rx="1.00" fill="#6f95d4" opacity="0.05"/>
<rect x="331.25" y="192.00" width="9.50" height="2.00" rx="1.00" fill="#6f95d4" opacity="0.12"/>
<rect x="330.50" y="215.55" width="11.00" height="2.10" rx="1.05" fill="#2f72c6" opacity="1.00"/>
<rect x="330.50" y="229.15" width="11.00" height="2.10" rx="1.05" fill="#2f72c6" opacity="1.00"/>
<rect x="343.00" y="174.88" width="10.80" height="2.25" rx="1.12" fill="#5b92d6" opacity="0.90"/>
<rect x="343.65" y="185.50" width="9.50" height="2.00" rx="1.00" fill="#6f95d4" opacity="0.05"/>
<rect x="343.65" y="192.00" width="9.50" height="2.00" rx="1.00" fill="#6f95d4" opacity="0.06"/>
<rect x="342.90" y="215.55" width="11.00" height="2.10" rx="1.05" fill="#2f72c6" opacity="1.00"/>
<rect x="342.90" y="229.15" width="11.00" height="2.10" rx="1.05" fill="#2f72c6" opacity="1.00"/>
<rect x="355.60" y="174.88" width="10.80" height="2.25" rx="1.12" fill="#5b92d6" opacity="0.90"/>
<rect x="356.25" y="185.50" width="9.50" height="2.00" rx="1.00" fill="#6f95d4" opacity="0.05"/>
<rect x="356.25" y="192.00" width="9.50" height="2.00" rx="1.00" fill="#6f95d4" opacity="0.04"/>
<rect x="355.50" y="215.55" width="11.00" height="2.10" rx="1.05" fill="#2f72c6" opacity="1.00"/>
<rect x="355.50" y="229.15" width="11.00" height="2.10" rx="1.05" fill="#2f72c6" opacity="1.00"/>
<rect x="368.20" y="174.88" width="10.80" height="2.25" rx="1.12" fill="#5b92d6" opacity="0.90"/>
<rect x="368.85" y="185.50" width="9.50" height="2.00" rx="1.00" fill="#6f95d4" opacity="0.05"/>
<rect x="368.85" y="192.00" width="9.50" height="2.00" rx="1.00" fill="#6f95d4" opacity="0.04"/>
<rect x="368.10" y="215.55" width="11.00" height="2.10" rx="1.05" fill="#2f72c6" opacity="1.00"/>
<rect x="368.10" y="229.15" width="11.00" height="2.10" rx="1.05" fill="#2f72c6" opacity="1.00"/>
</g>
<linearGradient id="bgg2pd" x1="0" y1="0" x2="0.25" y2="1"><stop offset="0" stop-color="#f0f0eb"/><stop offset="1" stop-color="#e7e7df"/></linearGradient>
<rect x="239.1" y="250.3" width="144.9" height="91.2" fill="url(#bgg2pd)"/>
<rect x="239.1" y="250.3" width="144.9" height="91.2" fill="url(#vig)"/>
<g filter="url(#blur)">
<rect x="247.20" y="252.40" width="8.20" height="3.60" rx="1.80" fill="#8c8ad0" opacity="0.60"/>
<rect x="247.20" y="263.50" width="8.20" height="3.80" rx="1.90" fill="#2f55b2" opacity="0.90"/>
<rect x="247.20" y="279.30" width="8.20" height="4.60" rx="2.30" fill="#1c3c9a" opacity="1.00"/>
<rect x="247.20" y="298.30" width="8.20" height="3.20" rx="1.60" fill="#7d7cc8" opacity="0.70"/>
<rect x="247.20" y="318.30" width="8.20" height="3.80" rx="1.90" fill="#8aa0d4" opacity="0.55"/>
<rect x="247.20" y="335.90" width="8.20" height="3.20" rx="1.60" fill="#3d55ae" opacity="0.85"/>
<rect x="257.50" y="277.80" width="9.80" height="2.00" rx="1.00" fill="#3a6ec4" opacity="0.60"/>
<rect x="257.50" y="281.00" width="9.80" height="2.00" rx="1.00" fill="#3a6ec4" opacity="0.70"/>
<rect x="257.50" y="285.40" width="9.80" height="2.00" rx="1.00" fill="#3a6ec4" opacity="0.45"/>

<rect x="257.50" y="293.00" width="9.80" height="2.00" rx="1.00" fill="#3a6ec4" opacity="0.15"/>
<rect x="256.30" y="268.60" width="12.20" height="7.60" rx="3.80" fill="#2252ad" opacity="1.00"/>
<rect x="256.90" y="309.70" width="11.00" height="2.60" rx="1.30" fill="#2a67c2" opacity="1.00"/>
<rect x="256.90" y="323.00" width="11.00" height="2.60" rx="1.30" fill="#2a67c2" opacity="1.00"/>
<rect x="270.20" y="277.80" width="9.80" height="2.00" rx="1.00" fill="#3a6ec4" opacity="0.20"/>
<rect x="270.20" y="281.00" width="9.80" height="2.00" rx="1.00" fill="#3a6ec4" opacity="0.35"/>
<rect x="270.20" y="285.40" width="9.80" height="2.00" rx="1.00" fill="#3a6ec4" opacity="0.45"/>

<rect x="270.20" y="293.00" width="9.80" height="2.00" rx="1.00" fill="#3a6ec4" opacity="0.35"/>
<rect x="269.00" y="268.60" width="12.20" height="7.60" rx="3.80" fill="#2252ad" opacity="1.00"/>
<rect x="269.60" y="309.70" width="11.00" height="2.60" rx="1.30" fill="#2a67c2" opacity="0.75"/>
<rect x="269.60" y="323.00" width="11.00" height="2.60" rx="1.30" fill="#2a67c2" opacity="0.75"/>
<rect x="282.60" y="277.80" width="9.80" height="2.00" rx="1.00" fill="#3a6ec4" opacity="0.15"/>
<rect x="282.60" y="281.00" width="9.80" height="2.00" rx="1.00" fill="#3a6ec4" opacity="0.20"/>
<rect x="282.60" y="285.40" width="9.80" height="2.00" rx="1.00" fill="#3a6ec4" opacity="0.20"/>

<rect x="282.60" y="293.00" width="9.80" height="2.00" rx="1.00" fill="#3a6ec4" opacity="0.12"/>
<rect x="281.40" y="268.60" width="12.20" height="7.60" rx="3.80" fill="#2252ad" opacity="1.00"/>
<rect x="282.00" y="309.70" width="11.00" height="2.60" rx="1.30" fill="#2a67c2" opacity="0.80"/>
<rect x="282.00" y="323.00" width="11.00" height="2.60" rx="1.30" fill="#2a67c2" opacity="0.80"/>
<rect x="295.10" y="277.80" width="9.80" height="2.00" rx="1.00" fill="#3a6ec4" opacity="0.10"/>
<rect x="295.10" y="281.00" width="9.80" height="2.00" rx="1.00" fill="#3a6ec4" opacity="0.20"/>
<rect x="295.10" y="285.40" width="9.80" height="2.00" rx="1.00" fill="#3a6ec4" opacity="0.15"/>

<rect x="295.10" y="293.00" width="9.80" height="2.00" rx="1.00" fill="#3a6ec4" opacity="0.25"/>
<rect x="293.90" y="268.60" width="12.20" height="7.60" rx="3.80" fill="#2252ad" opacity="1.00"/>
<rect x="294.50" y="309.70" width="11.00" height="2.60" rx="1.30" fill="#2a67c2" opacity="0.06"/>
<rect x="294.50" y="323.00" width="11.00" height="2.60" rx="1.30" fill="#2a67c2" opacity="0.06"/>
<rect x="307.30" y="277.80" width="9.80" height="2.00" rx="1.00" fill="#3a6ec4" opacity="0.30"/>
<rect x="307.30" y="281.00" width="9.80" height="2.00" rx="1.00" fill="#3a6ec4" opacity="0.35"/>
<rect x="307.30" y="285.40" width="9.80" height="2.00" rx="1.00" fill="#3a6ec4" opacity="0.35"/>

<rect x="307.30" y="293.00" width="9.80" height="2.00" rx="1.00" fill="#3a6ec4" opacity="0.25"/>
<rect x="306.10" y="268.60" width="12.20" height="7.60" rx="3.80" fill="#2252ad" opacity="1.00"/>
<rect x="306.70" y="309.70" width="11.00" height="2.60" rx="1.30" fill="#2a67c2" opacity="1.00"/>
<rect x="306.70" y="323.00" width="11.00" height="2.60" rx="1.30" fill="#2a67c2" opacity="1.00"/>
<rect x="320.10" y="277.80" width="9.80" height="2.00" rx="1.00" fill="#3a6ec4" opacity="0.30"/>
<rect x="320.10" y="281.00" width="9.80" height="2.00" rx="1.00" fill="#3a6ec4" opacity="0.50"/>

<rect x="320.10" y="287.10" width="9.80" height="2.40" rx="1.20" fill="#3a6ec4" opacity="0.80"/>
<rect x="320.10" y="293.00" width="9.80" height="2.00" rx="1.00" fill="#3a6ec4" opacity="0.15"/>
<rect x="318.90" y="268.60" width="12.20" height="7.60" rx="3.80" fill="#2252ad" opacity="1.00"/>
<rect x="319.50" y="309.70" width="11.00" height="2.60" rx="1.30" fill="#2a67c2" opacity="0.05"/>
<rect x="319.50" y="323.00" width="11.00" height="2.60" rx="1.30" fill="#2a67c2" opacity="0.05"/>
<rect x="332.10" y="277.80" width="9.80" height="2.00" rx="1.00" fill="#3a6ec4" opacity="0.20"/>
<rect x="332.10" y="281.00" width="9.80" height="2.00" rx="1.00" fill="#3a6ec4" opacity="0.45"/>

<rect x="332.10" y="287.10" width="9.80" height="2.40" rx="1.20" fill="#3a6ec4" opacity="0.85"/>
<rect x="332.10" y="293.00" width="9.80" height="2.00" rx="1.00" fill="#3a6ec4" opacity="0.10"/>
<rect x="330.90" y="268.60" width="12.20" height="7.60" rx="3.80" fill="#2252ad" opacity="1.00"/>
<rect x="331.50" y="309.70" width="11.00" height="2.60" rx="1.30" fill="#2a67c2" opacity="0.05"/>
<rect x="331.50" y="323.00" width="11.00" height="2.60" rx="1.30" fill="#2a67c2" opacity="0.05"/>
<rect x="344.50" y="277.80" width="9.80" height="2.00" rx="1.00" fill="#3a6ec4" opacity="0.50"/>
<rect x="344.50" y="281.00" width="9.80" height="2.00" rx="1.00" fill="#3a6ec4" opacity="0.60"/>
<rect x="344.50" y="285.40" width="9.80" height="2.00" rx="1.00" fill="#3a6ec4" opacity="0.35"/>

<rect x="344.50" y="293.00" width="9.80" height="2.00" rx="1.00" fill="#3a6ec4" opacity="0.40"/>
<rect x="343.30" y="268.60" width="12.20" height="7.60" rx="3.80" fill="#2252ad" opacity="1.00"/>
<rect x="343.90" y="309.70" width="11.00" height="2.60" rx="1.30" fill="#2a67c2" opacity="0.10"/>
<rect x="343.90" y="323.00" width="11.00" height="2.60" rx="1.30" fill="#2a67c2" opacity="0.10"/>
<rect x="356.70" y="277.80" width="9.80" height="2.00" rx="1.00" fill="#3a6ec4" opacity="0.20"/>
<rect x="356.70" y="281.00" width="9.80" height="2.00" rx="1.00" fill="#3a6ec4" opacity="0.25"/>
<rect x="356.70" y="285.40" width="9.80" height="2.00" rx="1.00" fill="#3a6ec4" opacity="0.20"/>

<rect x="356.70" y="293.00" width="9.80" height="2.00" rx="1.00" fill="#3a6ec4" opacity="0.15"/>
<rect x="355.50" y="268.60" width="12.20" height="7.60" rx="3.80" fill="#2252ad" opacity="1.00"/>
<rect x="356.10" y="309.70" width="11.00" height="2.60" rx="1.30" fill="#2a67c2" opacity="0.60"/>
<rect x="356.10" y="323.00" width="11.00" height="2.60" rx="1.30" fill="#2a67c2" opacity="0.60"/>
<rect x="369.30" y="277.80" width="9.80" height="2.00" rx="1.00" fill="#3a6ec4" opacity="0.20"/>
<rect x="369.30" y="281.00" width="9.80" height="2.00" rx="1.00" fill="#3a6ec4" opacity="0.30"/>
<rect x="369.30" y="285.40" width="9.80" height="2.00" rx="1.00" fill="#3a6ec4" opacity="0.25"/>

<rect x="369.30" y="293.00" width="9.80" height="2.00" rx="1.00" fill="#3a6ec4" opacity="0.10"/>
<rect x="368.10" y="268.60" width="12.20" height="7.60" rx="3.80" fill="#2252ad" opacity="1.00"/>
<rect x="368.70" y="309.70" width="11.00" height="2.60" rx="1.30" fill="#2a67c2" opacity="0.90"/>
<rect x="368.70" y="323.00" width="11.00" height="2.60" rx="1.30" fill="#2a67c2" opacity="0.90"/>
</g>
<linearGradient id="bgg3in" x1="0" y1="0" x2="0.25" y2="1"><stop offset="0" stop-color="#f0f0ee"/><stop offset="1" stop-color="#e4e4e1"/></linearGradient>
<rect x="393.8" y="156.3" width="97.5" height="90.7" fill="url(#bgg3in)"/>
<rect x="393.8" y="156.3" width="97.5" height="90.7" fill="url(#vig)"/>
<g filter="url(#blur)">
<rect x="398.70" y="158.40" width="8.20" height="3.60" rx="1.80" fill="#8c8ad0" opacity="0.60"/>
<rect x="398.70" y="173.90" width="8.20" height="3.80" rx="1.90" fill="#2f55b2" opacity="0.90"/>
<rect x="398.70" y="186.70" width="8.20" height="4.60" rx="2.30" fill="#1c3c9a" opacity="1.00"/>
<rect x="398.70" y="204.80" width="8.20" height="3.20" rx="1.60" fill="#7d7cc8" opacity="0.70"/>
<rect x="398.70" y="224.20" width="8.20" height="3.80" rx="1.90" fill="#8aa0d4" opacity="0.55"/>
<rect x="398.70" y="239.80" width="8.20" height="3.20" rx="1.60" fill="#3d55ae" opacity="0.85"/>
<rect x="410.20" y="174.60" width="9.40" height="3.60" rx="1.80" fill="#86aee2" opacity="0.60"/>
<rect x="410.15" y="186.00" width="9.50" height="2.00" rx="1.00" fill="#6f95d4" opacity="0.10"/>
<rect x="410.15" y="192.00" width="9.50" height="2.00" rx="1.00" fill="#6f95d4" opacity="0.06"/>
<rect x="410.10" y="215.95" width="9.60" height="2.10" rx="1.05" fill="#2f72c6" opacity="1.00"/>
<rect x="410.10" y="229.15" width="9.60" height="2.10" rx="1.05" fill="#2f72c6" opacity="1.00"/>
<rect x="421.60" y="174.60" width="9.40" height="3.60" rx="1.80" fill="#86aee2" opacity="0.55"/>
<rect x="421.55" y="186.00" width="9.50" height="2.00" rx="1.00" fill="#6f95d4" opacity="0.10"/>
<rect x="421.55" y="192.00" width="9.50" height="2.00" rx="1.00" fill="#6f95d4" opacity="0.06"/>
<rect x="421.50" y="215.95" width="9.60" height="2.10" rx="1.05" fill="#2f72c6" opacity="1.00"/>
<rect x="421.50" y="229.15" width="9.60" height="2.10" rx="1.05" fill="#2f72c6" opacity="1.00"/>
<rect x="432.80" y="174.60" width="9.40" height="3.60" rx="1.80" fill="#86aee2" opacity="0.85"/>
<rect x="432.75" y="186.00" width="9.50" height="2.00" rx="1.00" fill="#6f95d4" opacity="0.10"/>
<rect x="432.75" y="192.00" width="9.50" height="2.00" rx="1.00" fill="#6f95d4" opacity="0.06"/>
<rect x="432.70" y="215.95" width="9.60" height="2.10" rx="1.05" fill="#2f72c6" opacity="1.00"/>
<rect x="432.70" y="229.15" width="9.60" height="2.10" rx="1.05" fill="#2f72c6" opacity="1.00"/>
<rect x="443.90" y="174.60" width="9.40" height="3.60" rx="1.80" fill="#86aee2" opacity="0.85"/>
<rect x="443.85" y="186.00" width="9.50" height="2.00" rx="1.00" fill="#6f95d4" opacity="0.10"/>
<rect x="443.85" y="192.00" width="9.50" height="2.00" rx="1.00" fill="#6f95d4" opacity="0.06"/>
<rect x="443.80" y="215.95" width="9.60" height="2.10" rx="1.05" fill="#2f72c6" opacity="1.00"/>
<rect x="443.80" y="229.15" width="9.60" height="2.10" rx="1.05" fill="#2f72c6" opacity="1.00"/>
<rect x="455.10" y="174.60" width="9.40" height="3.60" rx="1.80" fill="#86aee2" opacity="0.45"/>
<rect x="455.05" y="186.00" width="9.50" height="2.00" rx="1.00" fill="#6f95d4" opacity="0.10"/>
<rect x="455.05" y="192.00" width="9.50" height="2.00" rx="1.00" fill="#6f95d4" opacity="0.06"/>
<rect x="455.00" y="215.95" width="9.60" height="2.10" rx="1.05" fill="#2f72c6" opacity="1.00"/>
<rect x="455.00" y="229.15" width="9.60" height="2.10" rx="1.05" fill="#2f72c6" opacity="1.00"/>
<rect x="466.30" y="174.60" width="9.40" height="3.60" rx="1.80" fill="#86aee2" opacity="0.55"/>
<rect x="466.25" y="186.00" width="9.50" height="2.00" rx="1.00" fill="#6f95d4" opacity="0.10"/>
<rect x="466.25" y="192.00" width="9.50" height="2.00" rx="1.00" fill="#6f95d4" opacity="0.06"/>
<rect x="466.20" y="215.95" width="9.60" height="2.10" rx="1.05" fill="#2f72c6" opacity="1.00"/>
<rect x="466.20" y="229.15" width="9.60" height="2.10" rx="1.05" fill="#2f72c6" opacity="1.00"/>
<rect x="477.40" y="174.60" width="9.40" height="3.60" rx="1.80" fill="#86aee2" opacity="0.75"/>
<rect x="477.35" y="186.00" width="9.50" height="2.00" rx="1.00" fill="#6f95d4" opacity="0.10"/>
<rect x="477.35" y="192.00" width="9.50" height="2.00" rx="1.00" fill="#6f95d4" opacity="0.06"/>
<rect x="477.30" y="215.95" width="9.60" height="2.10" rx="1.05" fill="#2f72c6" opacity="1.00"/>
<rect x="477.30" y="229.15" width="9.60" height="2.10" rx="1.05" fill="#2f72c6" opacity="1.00"/>
</g>
<linearGradient id="bgg3pd" x1="0" y1="0" x2="0.25" y2="1"><stop offset="0" stop-color="#eeeeec"/><stop offset="1" stop-color="#e5e5e1"/></linearGradient>
<rect x="393.8" y="250.3" width="97.5" height="91.2" fill="url(#bgg3pd)"/>
<rect x="393.8" y="250.3" width="97.5" height="91.2" fill="url(#vig)"/>
<g filter="url(#blur)">
<rect x="398.70" y="253.40" width="8.20" height="3.60" rx="1.80" fill="#8c8ad0" opacity="0.60"/>
<rect x="398.70" y="268.60" width="8.20" height="3.80" rx="1.90" fill="#2f55b2" opacity="0.90"/>
<rect x="398.70" y="281.40" width="8.20" height="4.60" rx="2.30" fill="#1c3c9a" opacity="1.00"/>
<rect x="398.70" y="299.30" width="8.20" height="3.20" rx="1.60" fill="#7d7cc8" opacity="0.70"/>
<rect x="398.70" y="319.30" width="8.20" height="3.80" rx="1.90" fill="#8aa0d4" opacity="0.55"/>
<rect x="398.70" y="335.90" width="8.20" height="3.20" rx="1.60" fill="#3d55ae" opacity="0.85"/>
<rect x="409.60" y="283.40" width="9.80" height="2.00" rx="1.00" fill="#3a6ec4" opacity="0.80"/>
<rect x="409.60" y="288.20" width="9.80" height="2.00" rx="1.00" fill="#3a6ec4" opacity="0.70"/>
<rect x="409.60" y="294.80" width="9.80" height="2.00" rx="1.00" fill="#3a6ec4" opacity="0.10"/>
<rect x="409.50" y="269.90" width="10.00" height="8.20" rx="4.10" fill="#3670c6" opacity="1.00"/>
<rect x="409.70" y="309.70" width="9.60" height="2.60" rx="1.30" fill="#2a67c2" opacity="0.85"/>
<rect x="409.70" y="323.00" width="9.60" height="2.60" rx="1.30" fill="#2a67c2" opacity="0.85"/>
<rect x="421.20" y="283.40" width="9.80" height="2.00" rx="1.00" fill="#3a6ec4" opacity="0.30"/>
<rect x="421.20" y="288.20" width="9.80" height="2.00" rx="1.00" fill="#3a6ec4" opacity="0.35"/>
<rect x="421.20" y="294.80" width="9.80" height="2.00" rx="1.00" fill="#3a6ec4" opacity="0.40"/>
<rect x="421.10" y="269.90" width="10.00" height="8.20" rx="4.10" fill="#3670c6" opacity="1.00"/>
<rect x="421.30" y="309.70" width="9.60" height="2.60" rx="1.30" fill="#2a67c2" opacity="0.85"/>
<rect x="421.30" y="323.00" width="9.60" height="2.60" rx="1.30" fill="#2a67c2" opacity="0.85"/>
<rect x="432.40" y="283.40" width="9.80" height="2.00" rx="1.00" fill="#3a6ec4" opacity="0.10"/>
<rect x="432.40" y="288.20" width="9.80" height="2.00" rx="1.00" fill="#3a6ec4" opacity="0.10"/>
<rect x="432.40" y="294.80" width="9.80" height="2.00" rx="1.00" fill="#3a6ec4" opacity="0.05"/>
<rect x="432.30" y="269.90" width="10.00" height="8.20" rx="4.10" fill="#3670c6" opacity="1.00"/>
<rect x="432.50" y="309.70" width="9.60" height="2.60" rx="1.30" fill="#2a67c2" opacity="1.00"/>
<rect x="432.50" y="323.00" width="9.60" height="2.60" rx="1.30" fill="#2a67c2" opacity="1.00"/>
<rect x="443.50" y="283.40" width="9.80" height="2.00" rx="1.00" fill="#3a6ec4" opacity="0.15"/>
<rect x="443.50" y="288.20" width="9.80" height="2.00" rx="1.00" fill="#3a6ec4" opacity="0.15"/>
<rect x="443.50" y="294.80" width="9.80" height="2.00" rx="1.00" fill="#3a6ec4" opacity="0.10"/>
<rect x="443.40" y="269.90" width="10.00" height="8.20" rx="4.10" fill="#3670c6" opacity="1.00"/>
<rect x="443.60" y="309.70" width="9.60" height="2.60" rx="1.30" fill="#2a67c2" opacity="0.85"/>
<rect x="443.60" y="323.00" width="9.60" height="2.60" rx="1.30" fill="#2a67c2" opacity="0.85"/>
<rect x="454.70" y="283.40" width="9.80" height="2.00" rx="1.00" fill="#3a6ec4" opacity="0.50"/>
<rect x="454.70" y="288.20" width="9.80" height="2.00" rx="1.00" fill="#3a6ec4" opacity="0.55"/>
<rect x="454.70" y="294.80" width="9.80" height="2.00" rx="1.00" fill="#3a6ec4" opacity="0.35"/>
<rect x="454.60" y="269.90" width="10.00" height="8.20" rx="4.10" fill="#3670c6" opacity="1.00"/>
<rect x="454.80" y="309.70" width="9.60" height="2.60" rx="1.30" fill="#2a67c2" opacity="0.85"/>
<rect x="454.80" y="323.00" width="9.60" height="2.60" rx="1.30" fill="#2a67c2" opacity="0.85"/>
<rect x="465.50" y="283.40" width="9.80" height="2.00" rx="1.00" fill="#3a6ec4" opacity="0.45"/>
<rect x="465.50" y="288.20" width="9.80" height="2.00" rx="1.00" fill="#3a6ec4" opacity="0.45"/>
<rect x="465.50" y="294.80" width="9.80" height="2.00" rx="1.00" fill="#3a6ec4" opacity="0.30"/>
<rect x="465.40" y="269.90" width="10.00" height="8.20" rx="4.10" fill="#3670c6" opacity="1.00"/>
<rect x="465.60" y="309.70" width="9.60" height="2.60" rx="1.30" fill="#2a67c2" opacity="0.85"/>
<rect x="465.60" y="323.00" width="9.60" height="2.60" rx="1.30" fill="#2a67c2" opacity="0.85"/>
<rect x="476.60" y="283.40" width="9.80" height="2.00" rx="1.00" fill="#3a6ec4" opacity="0.10"/>
<rect x="476.60" y="288.20" width="9.80" height="2.00" rx="1.00" fill="#3a6ec4" opacity="0.10"/>
<rect x="476.60" y="294.80" width="9.80" height="2.00" rx="1.00" fill="#3a6ec4" opacity="0.05"/>
<rect x="476.50" y="269.90" width="10.00" height="8.20" rx="4.10" fill="#3670c6" opacity="1.00"/>
<rect x="476.70" y="309.70" width="9.60" height="2.60" rx="1.30" fill="#2a67c2" opacity="0.85"/>
<rect x="476.70" y="323.00" width="9.60" height="2.60" rx="1.30" fill="#2a67c2" opacity="0.85"/>
</g>
<rect x="17.3" y="159" width="1.9" height="85.4" fill="#000"/>
<rect x="17.3" y="252.4" width="1.9" height="85" fill="#000"/>
<text transform="translate(9.9,201.3) rotate(-90)" font-size="11.5" text-anchor="middle">Input</text>
<text transform="translate(9.9,295.7) rotate(-90)" font-size="11.5" text-anchor="middle">Pull-down</text>
<rect x="492.3" y="176.1" width="4.6" height="1" fill="#333"/>
<text x="501.9" y="181.0" font-size="11.4">GST-UBN1</text>
<rect x="492.3" y="216.1" width="4.6" height="1" fill="#333"/>
<text x="501.9" y="221.0" font-size="11.4">H3.3</text>
<rect x="492.3" y="229.3" width="4.6" height="1" fill="#333"/>
<text x="501.9" y="234.2" font-size="11.4">H4</text>
<text x="507.4" y="195.0" font-size="11.4">(92–175)</text>
<rect x="492.3" y="271.0" width="4.6" height="1" fill="#333"/>
<text x="501.9" y="275.9" font-size="11.4">GST-UBN1</text>
<rect x="492.3" y="308.9" width="4.6" height="1" fill="#333"/>
<text x="501.9" y="313.8" font-size="11.4">H3.3</text>
<rect x="492.3" y="322.2" width="4.6" height="1" fill="#333"/>
<text x="501.9" y="327.1" font-size="11.4">H4</text>
<text x="507.4" y="289.9" font-size="11.4">(92–175)</text>
<text x="583.8" y="15.0" font-size="16.5" font-weight="bold" fill="#000">c</text>
<rect x="584.7" y="53.8" width="203.3" height="2.1" fill="#000"/>
<rect x="685.2" y="18.7" width="1.8" height="644.5" fill="#000"/>
<text x="637.4" y="31.8" font-size="11.5" text-anchor="middle">UBN1 92–175</text>
<text x="637.4" y="46.0" font-size="11.5" text-anchor="middle">variant</text>
<text x="735.3" y="31.9" font-size="11.5" text-anchor="middle">H3.3/H4</text>
<text x="735.3" y="46.6" font-size="11.5" text-anchor="middle">IC<tspan font-size="8.5" dy="2.3">50</tspan><tspan dy="-2.3"> (μM)</tspan></text>
<text x="637.6" y="71.0" font-size="11.5" text-anchor="middle">Wild-type</text>
<text x="735.8" y="71.0" font-size="11.5" text-anchor="middle" word-spacing="-1.5">16.6<tspan dx="3.0">±</tspan><tspan dx="3.0">2.0</tspan></text>
<text x="637.6" y="93.2" font-size="11.5" text-anchor="middle">I122A</text>
<text x="735.8" y="93.2" font-size="11.5" text-anchor="middle" word-spacing="-1.5">16.9<tspan dx="3.0">±</tspan><tspan dx="3.0">2.0</tspan></text>
<text x="637.6" y="115.3" font-size="11.5" text-anchor="middle">Q123A</text>
<text x="735.8" y="115.3" font-size="11.5" text-anchor="middle" word-spacing="-1.5">13.8<tspan dx="3.0">±</tspan><tspan dx="3.0">2.0</tspan></text>
<text x="637.6" y="137.4" font-size="11.5" text-anchor="middle">D124A</text>
<text x="735.8" y="137.4" font-size="11.5" text-anchor="middle" word-spacing="-1.5">19.6<tspan dx="3.0">±</tspan><tspan dx="3.0">2.2</tspan></text>
<text x="637.6" y="159.3" font-size="11.5" text-anchor="middle">L125A</text>
<text x="735.8" y="159.3" font-size="11.5" text-anchor="middle" word-spacing="-1.5">15.1<tspan dx="3.0">±</tspan><tspan dx="3.0">5.2</tspan></text>
<text x="637.6" y="180.6" font-size="11.5" text-anchor="middle">I126A</text>
<text x="735.8" y="180.6" font-size="11.5" text-anchor="middle" word-spacing="-1.5">13.8<tspan dx="3.0">±</tspan><tspan dx="3.0">3.6</tspan></text>
<text x="637.6" y="203.5" font-size="11.5" text-anchor="middle">D127A</text>
<text x="735.8" y="203.2" font-size="11.5" text-anchor="middle" word-spacing="-1.5">21.1<tspan dx="3.0">±</tspan><tspan dx="3.0">4.3</tspan></text>
<text x="637.6" y="223.1" font-size="11.5" text-anchor="middle">M128A</text>
<text x="735.8" y="224.9" font-size="11.5" text-anchor="middle" word-spacing="-1.5">22.6<tspan dx="3.0">±</tspan><tspan dx="3.0">3.9</tspan></text>
<text x="637.6" y="247.9" font-size="11.5" text-anchor="middle">G129A</text>
<text x="735.8" y="247.4" font-size="11.5" text-anchor="middle" word-spacing="-1.5">67.8<tspan dx="3.0">±</tspan><tspan dx="3.0">13</tspan></text>
<text x="637.6" y="270.1" font-size="11.5" text-anchor="middle">Y130A</text>
<text x="735.8" y="269.5" font-size="11.5" text-anchor="middle" word-spacing="-1.5">14.4<tspan dx="3.0">±</tspan><tspan dx="3.0">1.6</tspan></text>
<text x="637.6" y="291.7" font-size="11.5" text-anchor="middle">G131A</text>
<text x="735.8" y="291.5" font-size="11.5" text-anchor="middle" word-spacing="-1.5">19.9<tspan dx="3.0">±</tspan><tspan dx="3.0">4.1</tspan></text>
<text x="637.6" y="313.2" font-size="11.5" text-anchor="middle">Y132A</text>
<text x="732.7" y="313.2" font-size="11.5" text-anchor="middle" word-spacing="-1.5">ND</text>
<text x="637.6" y="334.0" font-size="11.5" text-anchor="middle">D133A</text>
<text x="732.7" y="334.0" font-size="11.5" text-anchor="middle" word-spacing="-1.5">ND</text>
<text x="637.6" y="355.5" font-size="11.5" text-anchor="middle">E134A</text>
<text x="732.7" y="355.5" font-size="11.5" text-anchor="middle" word-spacing="-1.5">ND</text>
<text x="637.6" y="376.3" font-size="11.5" text-anchor="middle">S135A</text>
<text x="732.7" y="376.3" font-size="11.5" text-anchor="middle" word-spacing="-1.5">ND</text>
<text x="637.6" y="397.4" font-size="11.5" text-anchor="middle">D136A</text>
<text x="732.7" y="397.4" font-size="11.5" text-anchor="middle" word-spacing="-1.5">ND</text>
<text x="637.6" y="419.6" font-size="11.5" text-anchor="middle">S137A</text>
<text x="735.8" y="419.6" font-size="11.5" text-anchor="middle" word-spacing="-1.5">16.2<tspan dx="3.0">±</tspan><tspan dx="3.0">2.9</tspan></text>
<text x="637.6" y="440.5" font-size="11.5" text-anchor="middle">F138A</text>
<text x="732.7" y="440.5" font-size="11.5" text-anchor="middle" word-spacing="-1.5">ND</text>
<text x="637.6" y="461.4" font-size="11.5" text-anchor="middle">I139A</text>
<text x="732.7" y="461.4" font-size="11.5" text-anchor="middle" word-spacing="-1.5">ND</text>
<text x="637.6" y="482.8" font-size="11.5" text-anchor="middle">D140A</text>
<text x="732.7" y="482.8" font-size="11.5" text-anchor="middle" word-spacing="-1.5">ND</text>
<text x="637.6" y="503.7" font-size="11.5" text-anchor="middle">N141A</text>
<text x="732.7" y="503.7" font-size="11.5" text-anchor="middle" word-spacing="-1.5">ND</text>
<text x="637.6" y="524.8" font-size="11.5" text-anchor="middle">S142A</text>
<text x="732.7" y="524.8" font-size="11.5" text-anchor="middle" word-spacing="-1.5">ND</text>
<text x="637.6" y="546.5" font-size="11.5" text-anchor="middle">E143A</text>
<text x="735.8" y="546.5" font-size="11.5" text-anchor="middle" word-spacing="-1.5">29.3<tspan dx="3.0">±</tspan><tspan dx="3.0">6.3</tspan></text>
<text x="637.6" y="568.8" font-size="11.5" text-anchor="middle">A144I</text>
<text x="735.8" y="568.8" font-size="11.5" text-anchor="middle" word-spacing="-1.5">16.3<tspan dx="3.0">±</tspan><tspan dx="3.0">2.2</tspan></text>
<text x="637.6" y="591.4" font-size="11.5" text-anchor="middle">Y145A</text>
<text x="735.8" y="591.4" font-size="11.5" text-anchor="middle" word-spacing="-1.5">16.4<tspan dx="3.0">±</tspan><tspan dx="3.0">2.2</tspan></text>
<text x="637.6" y="613.3" font-size="11.5" text-anchor="middle">D146A</text>
<text x="735.8" y="613.3" font-size="11.5" text-anchor="middle" word-spacing="-1.5">23.0<tspan dx="3.0">±</tspan><tspan dx="3.0">2.9</tspan></text>
<text x="637.6" y="635.4" font-size="11.5" text-anchor="middle">E147A</text>
<text x="735.8" y="635.4" font-size="11.5" text-anchor="middle" word-spacing="-1.5">22.9<tspan dx="3.0">±</tspan><tspan dx="3.0">2.9</tspan></text>
<text x="637.6" y="657.5" font-size="11.5" text-anchor="middle">L148A</text>
<text x="735.8" y="657.5" font-size="11.5" text-anchor="middle" word-spacing="-1.5">19.6<tspan dx="3.0">±</tspan><tspan dx="3.0">2.2</tspan></text>
<text x="0.9" y="373.6" font-size="16.5" font-weight="bold" fill="#000">d</text>
<g stroke="#111" stroke-width="1.3" fill="none">
<path d="M63.30,393.60 V519.80 H252.00"/>
<path d="M57.70,519.80 H63.30"/>
<path d="M57.70,488.25 H63.30"/>
<path d="M57.70,456.70 H63.30"/>
<path d="M57.70,425.15 H63.30"/>
<path d="M57.70,393.60 H63.30"/>
<path d="M63.30,519.80 V525.20"/>
<path d="M94.75,519.80 V525.20"/>
<path d="M126.20,519.80 V525.20"/>
<path d="M157.65,519.80 V525.20"/>
<path d="M189.10,519.80 V525.20"/>
<path d="M220.55,519.80 V525.20"/>
<path d="M252.00,519.80 V525.20"/>
</g>
<text x="52.70" y="524.50" font-size="11.5" text-anchor="end">0</text>
<text x="52.70" y="492.95" font-size="11.5" text-anchor="end">50</text>
<text x="52.70" y="461.40" font-size="11.5" text-anchor="end">100</text>
<text x="52.70" y="429.85" font-size="11.5" text-anchor="end">150</text>
<text x="52.70" y="398.30" font-size="11.5" text-anchor="end">200</text>
<text x="63.30" y="538.60" font-size="11.2" text-anchor="middle">0.001</text>
<text x="94.75" y="538.60" font-size="11.2" text-anchor="middle">0.01</text>
<text x="126.20" y="538.60" font-size="11.2" text-anchor="middle">0.1</text>
<text x="157.65" y="538.60" font-size="11.2" text-anchor="middle">1</text>
<text x="189.10" y="538.60" font-size="11.2" text-anchor="middle">10</text>
<text x="220.55" y="538.60" font-size="11.2" text-anchor="middle">100</text>
<text x="252.00" y="538.60" font-size="11.2" text-anchor="middle">1,000</text>
<text x="155.90" y="555.30" font-size="11.6" text-anchor="middle">[UBN1] μM</text>
<text transform="translate(22.50,460.00) rotate(-90)" font-size="11.7" text-anchor="middle">Fluorescence polarization (mP)</text>
<text x="91.30" y="402.70" font-size="11.5">Wild type</text>
<polyline points="88.01,428.58 89.78,428.59 91.56,428.60 93.33,428.61 95.11,428.62 96.88,428.64 98.66,428.65 100.43,428.67 102.21,428.69 103.98,428.71 105.76,428.73 107.53,428.75 109.31,428.78 111.08,428.81 112.86,428.85 114.63,428.89 116.41,428.93 118.18,428.98 119.96,429.03 121.73,429.09 123.51,429.16 125.28,429.23 127.06,429.32 128.83,429.41 130.61,429.51 132.38,429.63 134.16,429.76 135.94,429.90 137.71,430.06 139.49,430.24 141.26,430.43 143.04,430.65 144.81,430.90 146.59,431.16 148.36,431.46 150.14,431.79 151.91,432.16 153.69,432.57 155.46,433.02 157.24,433.51 159.01,434.06 160.79,434.66 162.56,435.32 164.34,436.04 166.11,436.83 167.89,437.70 169.66,438.64 171.44,439.67 173.21,440.79 174.99,441.99 176.76,443.30 178.54,444.69 180.31,446.19 182.09,447.79 183.86,449.48 185.64,451.28 187.41,453.17 189.19,455.14 190.96,457.20 192.74,459.34 194.51,461.54 196.29,463.80 198.06,466.10 199.84,468.43 201.62,470.78 203.39,473.13 205.17,475.47 206.94,477.78 208.72,480.05 210.49,482.27 212.27,484.42 214.04,486.50 215.82,488.50 217.59,490.41 219.37,492.23 221.14,493.95 222.92,495.57 224.69,497.10 226.47,498.52 228.24,499.84 230.02,501.07" fill="none" stroke="#111" stroke-width="1.3"/>
<polyline points="97.40,429.60 99.21,429.50 101.01,429.41 102.82,429.33 104.63,429.26 106.43,429.20 108.24,429.15 110.04,429.10 111.85,429.07 113.66,429.04 115.46,429.02 117.27,429.01 119.08,429.00 120.88,429.00 122.69,429.02 124.49,429.05 126.30,429.09 128.11,429.14 129.91,429.20 131.72,429.27 133.53,429.34 135.33,429.41 137.14,429.52 138.95,429.66 140.75,429.83 142.56,430.02 144.36,430.23 146.17,430.44 147.98,430.66 149.78,430.87 151.59,431.08 153.40,431.30 155.20,431.52 157.01,431.76 158.82,432.00 160.62,432.26 162.43,432.54 164.23,432.84 166.04,433.18 167.85,433.57 169.65,433.98 171.46,434.41 173.27,434.83 175.07,435.23 176.88,435.60 178.68,435.96 180.49,436.32 182.30,436.67 184.10,437.02 185.91,437.37 187.72,437.72 189.52,438.08 191.33,438.43 193.14,438.78 194.94,439.13 196.75,439.49 198.55,439.88 200.36,440.29 202.17,440.74 203.97,441.22 205.78,441.72 207.59,442.25 209.39,442.82 211.20,443.41 213.01,444.03 214.81,444.68 216.62,445.38 218.42,446.13 220.23,446.97 222.04,447.89 223.84,448.94 225.65,450.16 227.46,451.63 229.26,453.41 231.07,455.44 232.87,457.87 234.68,460.68 236.49,463.48 238.29,466.19 240.10,468.90" fill="none" stroke="#111" stroke-width="1.3"/>
<path d="M173.21,439.70 V445.30 M170.81,439.70 H175.61 M170.81,445.30 H175.61" stroke="#111" stroke-width="1.2" fill="none"/>
<circle cx="88.01" cy="430.60" r="2.2" fill="#111"/>
<circle cx="97.47" cy="430.00" r="2.2" fill="#111"/>
<circle cx="106.94" cy="429.40" r="2.2" fill="#111"/>
<circle cx="116.41" cy="428.30" r="2.2" fill="#111"/>
<circle cx="125.88" cy="428.30" r="2.2" fill="#111"/>
<circle cx="135.34" cy="427.80" r="2.2" fill="#111"/>
<circle cx="144.81" cy="429.00" r="2.2" fill="#111"/>
<circle cx="154.28" cy="432.80" r="2.2" fill="#111"/>
<circle cx="163.75" cy="436.30" r="2.2" fill="#111"/>
<circle cx="173.21" cy="442.50" r="2.2" fill="#111"/>
<circle cx="182.68" cy="447.90" r="2.2" fill="#111"/>
<circle cx="192.15" cy="458.10" r="2.2" fill="#111"/>
<circle cx="201.62" cy="471.00" r="2.2" fill="#111"/>
<circle cx="211.08" cy="483.10" r="2.2" fill="#111"/>
<circle cx="220.55" cy="492.90" r="2.2" fill="#111"/>
<circle cx="230.02" cy="501.40" r="2.2" fill="#111"/>
<circle cx="97.47" cy="432.20" r="2.2" fill="#2030b0" stroke="#111" stroke-width="0.5"/>
<circle cx="106.94" cy="429.90" r="2.2" fill="#2030b0" stroke="#111" stroke-width="0.5"/>
<circle cx="116.41" cy="428.30" r="2.2" fill="#2030b0" stroke="#111" stroke-width="0.5"/>
<circle cx="125.88" cy="427.80" r="2.2" fill="#2030b0" stroke="#111" stroke-width="0.5"/>
<circle cx="135.34" cy="429.40" r="2.2" fill="#2030b0" stroke="#111" stroke-width="0.5"/>
<circle cx="144.81" cy="428.30" r="2.2" fill="#2030b0" stroke="#111" stroke-width="0.5"/>
<circle cx="154.28" cy="430.10" r="2.2" fill="#2030b0" stroke="#111" stroke-width="0.5"/>
<path d="M163.75,431.00 L165.85,434.80 L161.65,434.80 Z" fill="#2233cc"/>
<path d="M173.21,432.10 L175.31,435.90 L171.11,435.90 Z" fill="#2233cc"/>
<path d="M182.68,433.80 L184.78,437.60 L180.58,437.60 Z" fill="#2233cc"/>
<path d="M192.15,435.90 L194.25,439.70 L190.05,439.70 Z" fill="#2233cc"/>
<path d="M201.62,436.30 L203.72,440.10 L199.52,440.10 Z" fill="#2233cc"/>
<path d="M211.08,441.60 L213.18,445.40 L208.98,445.40 Z" fill="#2233cc"/>
<path d="M220.55,444.40 L222.65,448.20 L218.45,448.20 Z" fill="#2233cc"/>
<path d="M230.02,459.00 L232.12,462.80 L227.92,462.80 Z" fill="#2233cc"/>
<path d="M239.48,466.30 L241.58,470.10 L237.38,470.10 Z" fill="#2233cc"/>
<path d="M69.3,494.9 H95.9" stroke="#111" stroke-width="1.2"/>
<path d="M82.7,492.59999999999997 L84.8,496.4 L80.6,496.4 Z" fill="#2233cc"/>
<path d="M69.3,511.9 H95.9" stroke="#111" stroke-width="1.2"/>
<circle cx="82.6" cy="511.9" r="2.2" fill="#111"/>
<text x="100.4" y="498.8" font-size="11.5">H3.1/H4IC<tspan font-size="8.6" dy="3.1">50</tspan><tspan dy="-3.1"> = ND</tspan></text>
<text x="100.4" y="515.6" font-size="11.5">H3.3/H4IC<tspan font-size="8.6" dy="3.1">50</tspan><tspan dy="-3.1"> = 16.6 ± 2.0 μM</tspan></text>
<g stroke="#111" stroke-width="1.3" fill="none">
<path d="M361.30,393.40 V518.90 H550.00"/>
<path d="M355.70,518.90 H361.30"/>
<path d="M355.70,487.52 H361.30"/>
<path d="M355.70,456.15 H361.30"/>
<path d="M355.70,424.77 H361.30"/>
<path d="M355.70,393.40 H361.30"/>
<path d="M361.30,518.90 V524.30"/>
<path d="M392.75,518.90 V524.30"/>
<path d="M424.20,518.90 V524.30"/>
<path d="M455.65,518.90 V524.30"/>
<path d="M487.10,518.90 V524.30"/>
<path d="M518.55,518.90 V524.30"/>
<path d="M550.00,518.90 V524.30"/>
</g>
<text x="350.70" y="523.60" font-size="11.5" text-anchor="end">0</text>
<text x="350.70" y="492.22" font-size="11.5" text-anchor="end">50</text>
<text x="350.70" y="460.85" font-size="11.5" text-anchor="end">100</text>
<text x="350.70" y="429.47" font-size="11.5" text-anchor="end">150</text>
<text x="350.70" y="398.10" font-size="11.5" text-anchor="end">200</text>
<text x="361.30" y="537.70" font-size="11.2" text-anchor="middle">0.001</text>
<text x="392.75" y="537.70" font-size="11.2" text-anchor="middle">0.01</text>
<text x="424.20" y="537.70" font-size="11.2" text-anchor="middle">0.1</text>
<text x="455.65" y="537.70" font-size="11.2" text-anchor="middle">1</text>
<text x="487.10" y="537.70" font-size="11.2" text-anchor="middle">10</text>
<text x="518.55" y="537.70" font-size="11.2" text-anchor="middle">100</text>
<text x="550.00" y="537.70" font-size="11.2" text-anchor="middle">1,000</text>
<text x="453.90" y="554.40" font-size="11.6" text-anchor="middle">[UBN1] μM</text>
<text transform="translate(320.50,459.10) rotate(-90)" font-size="11.7" text-anchor="middle">Fluorescence polarization (mP)</text>
<text x="388.50" y="402.70" font-size="11.5">Y132A</text>
<polyline points="386.01,430.25 387.78,430.26 389.56,430.26 391.33,430.27 393.11,430.27 394.88,430.28 396.66,430.28 398.43,430.29 400.21,430.29 401.98,430.30 403.76,430.31 405.53,430.32 407.31,430.33 409.08,430.34 410.86,430.36 412.63,430.37 414.41,430.38 416.18,430.40 417.96,430.42 419.73,430.44 421.51,430.46 423.28,430.49 425.06,430.51 426.83,430.54 428.61,430.57 430.38,430.61 432.16,430.65 433.94,430.69 435.71,430.74 437.49,430.79 439.26,430.85 441.04,430.91 442.81,430.98 444.59,431.05 446.36,431.14 448.14,431.23 449.91,431.33 451.69,431.44 453.46,431.56 455.24,431.69 457.01,431.83 458.79,431.99 460.56,432.16 462.34,432.35 464.11,432.55 465.89,432.78 467.66,433.02 469.44,433.29 471.21,433.58 472.99,433.90 474.76,434.24 476.54,434.61 478.31,435.02 480.09,435.46 481.86,435.94 483.64,436.45 485.41,437.01 487.19,437.61 488.96,438.25 490.74,438.95 492.51,439.69 494.29,440.48 496.06,441.32 497.84,442.22 499.62,443.17 501.39,444.17 503.17,445.23 504.94,446.34 506.72,447.51 508.49,448.72 510.27,449.98 512.04,451.28 513.82,452.63 515.59,454.01 517.37,455.42 519.14,456.85 520.92,458.31 522.69,459.77 524.47,461.25 526.24,462.72 528.02,464.18" fill="none" stroke="#111" stroke-width="1.3"/>
<path d="M395.47,430.30 V435.10 M393.07,430.30 H397.87 M393.07,435.10 H397.87" stroke="#111" stroke-width="1.2" fill="none"/>
<path d="M480.68,437.20 V442.40 M478.28,437.20 H483.08 M478.28,442.40 H483.08" stroke="#111" stroke-width="1.2" fill="none"/>
<circle cx="386.01" cy="432.90" r="2.2" fill="#111"/>
<circle cx="395.47" cy="432.70" r="2.2" fill="#111"/>
<circle cx="404.94" cy="428.90" r="2.2" fill="#111"/>
<circle cx="414.41" cy="429.70" r="2.2" fill="#111"/>
<circle cx="423.88" cy="430.10" r="2.2" fill="#111"/>
<circle cx="433.34" cy="428.30" r="2.2" fill="#111"/>
<circle cx="442.81" cy="429.90" r="2.2" fill="#111"/>
<circle cx="452.28" cy="431.30" r="2.2" fill="#111"/>
<circle cx="461.75" cy="432.70" r="2.2" fill="#111"/>
<circle cx="471.21" cy="431.70" r="2.2" fill="#111"/>
<circle cx="480.68" cy="439.80" r="2.2" fill="#111"/>
<circle cx="490.15" cy="437.00" r="2.2" fill="#111"/>
<circle cx="499.62" cy="444.50" r="2.2" fill="#111"/>
<circle cx="509.08" cy="446.50" r="2.2" fill="#111"/>
<circle cx="518.55" cy="458.10" r="2.2" fill="#111"/>
<circle cx="528.02" cy="463.80" r="2.2" fill="#111"/>
<text x="383.50" y="497.20" font-size="11.5">IC<tspan font-size="8.6" dy="3.1">50</tspan><tspan dy="-3.1"> = ND</tspan></text>
<g stroke="#111" stroke-width="1.3" fill="none">
<path d="M63.70,598.50 V724.20 H252.40"/>
<path d="M58.10,724.20 H63.70"/>
<path d="M58.10,692.77 H63.70"/>
<path d="M58.10,661.35 H63.70"/>
<path d="M58.10,629.92 H63.70"/>
<path d="M58.10,598.50 H63.70"/>
<path d="M63.70,724.20 V729.60"/>
<path d="M95.15,724.20 V729.60"/>
<path d="M126.60,724.20 V729.60"/>
<path d="M158.05,724.20 V729.60"/>
<path d="M189.50,724.20 V729.60"/>
<path d="M220.95,724.20 V729.60"/>
<path d="M252.40,724.20 V729.60"/>
</g>
<text x="53.10" y="728.90" font-size="11.5" text-anchor="end">0</text>
<text x="53.10" y="697.48" font-size="11.5" text-anchor="end">50</text>
<text x="53.10" y="666.05" font-size="11.5" text-anchor="end">100</text>
<text x="53.10" y="634.62" font-size="11.5" text-anchor="end">150</text>
<text x="53.10" y="603.20" font-size="11.5" text-anchor="end">200</text>
<text x="63.70" y="743.00" font-size="11.2" text-anchor="middle">0.001</text>
<text x="95.15" y="743.00" font-size="11.2" text-anchor="middle">0.01</text>
<text x="126.60" y="743.00" font-size="11.2" text-anchor="middle">0.1</text>
<text x="158.05" y="743.00" font-size="11.2" text-anchor="middle">1</text>
<text x="189.50" y="743.00" font-size="11.2" text-anchor="middle">10</text>
<text x="220.95" y="743.00" font-size="11.2" text-anchor="middle">100</text>
<text x="252.40" y="743.00" font-size="11.2" text-anchor="middle">1,000</text>
<text x="156.30" y="759.70" font-size="11.6" text-anchor="middle">[UBN1] μM</text>
<text transform="translate(22.90,665.60) rotate(-90)" font-size="11.7" text-anchor="middle">Fluorescence polarization (mP)</text>
<text x="87.50" y="609.60" font-size="11.5">S137A</text>
<polyline points="88.41,635.20 90.18,635.21 91.96,635.23 93.73,635.24 95.51,635.25 97.28,635.27 99.06,635.29 100.83,635.31 102.61,635.33 104.38,635.35 106.16,635.38 107.93,635.41 109.71,635.44 111.48,635.48 113.26,635.52 115.03,635.56 116.81,635.61 118.58,635.67 120.36,635.73 122.13,635.80 123.91,635.88 125.68,635.96 127.46,636.05 129.23,636.16 131.01,636.27 132.78,636.40 134.56,636.54 136.34,636.70 138.11,636.87 139.89,637.06 141.66,637.27 143.44,637.50 145.21,637.76 146.99,638.05 148.76,638.36 150.54,638.71 152.31,639.09 154.09,639.51 155.86,639.97 157.64,640.47 159.41,641.03 161.19,641.64 162.96,642.30 164.74,643.03 166.51,643.82 168.29,644.68 170.06,645.61 171.84,646.63 173.61,647.72 175.39,648.90 177.16,650.18 178.94,651.54 180.71,652.99 182.49,654.54 184.26,656.19 186.04,657.92 187.81,659.75 189.59,661.67 191.36,663.67 193.14,665.75 194.91,667.89 196.69,670.10 198.46,672.36 200.24,674.65 202.02,676.98 203.79,679.32 205.57,681.66 207.34,683.99 209.12,686.29 210.89,688.56 212.67,690.79 214.44,692.95 216.22,695.05 217.99,697.08 219.77,699.02 221.54,700.88 223.32,702.65 225.09,704.32 226.87,705.90 228.64,707.39 230.42,708.78" fill="none" stroke="#111" stroke-width="1.3"/>
<path d="M164.15,642.60 V648.20 M161.75,642.60 H166.55 M161.75,648.20 H166.55" stroke="#111" stroke-width="1.2" fill="none"/>
<path d="M173.61,643.80 V650.20 M171.21,643.80 H176.01 M171.21,650.20 H176.01" stroke="#111" stroke-width="1.2" fill="none"/>
<path d="M192.55,662.30 V669.10 M190.15,662.30 H194.95 M190.15,669.10 H194.95" stroke="#111" stroke-width="1.2" fill="none"/>
<path d="M202.02,673.90 V679.90 M199.62,673.90 H204.42 M199.62,679.90 H204.42" stroke="#111" stroke-width="1.2" fill="none"/>
<path d="M211.48,686.00 V691.20 M209.08,686.00 H213.88 M209.08,691.20 H213.88" stroke="#111" stroke-width="1.2" fill="none"/>
<path d="M230.42,705.70 V711.70 M228.02,705.70 H232.82 M228.02,711.70 H232.82" stroke="#111" stroke-width="1.2" fill="none"/>
<circle cx="88.41" cy="638.70" r="2.2" fill="#111"/>
<circle cx="97.87" cy="636.60" r="2.2" fill="#111"/>
<circle cx="107.34" cy="634.80" r="2.2" fill="#111"/>
<circle cx="116.81" cy="634.80" r="2.2" fill="#111"/>
<circle cx="126.28" cy="634.20" r="2.2" fill="#111"/>
<circle cx="135.74" cy="633.40" r="2.2" fill="#111"/>
<circle cx="145.21" cy="637.50" r="2.2" fill="#111"/>
<circle cx="154.68" cy="639.90" r="2.2" fill="#111"/>
<circle cx="164.15" cy="645.40" r="2.2" fill="#111"/>
<circle cx="173.61" cy="647.00" r="2.2" fill="#111"/>
<circle cx="183.08" cy="654.50" r="2.2" fill="#111"/>
<circle cx="192.55" cy="665.70" r="2.2" fill="#111"/>
<circle cx="202.02" cy="676.90" r="2.2" fill="#111"/>
<circle cx="211.48" cy="688.60" r="2.2" fill="#111"/>
<circle cx="220.95" cy="700.80" r="2.2" fill="#111"/>
<circle cx="230.42" cy="708.70" r="2.2" fill="#111"/>
<text x="85.50" y="704.20" font-size="11.5">IC<tspan font-size="8.6" dy="3.1">50</tspan><tspan dy="-3.1"> = 16.2 ± 2.9 μM</tspan></text>
<g stroke="#111" stroke-width="1.3" fill="none">
<path d="M361.30,599.00 V724.30 H550.00"/>
<path d="M355.70,724.30 H361.30"/>
<path d="M355.70,692.98 H361.30"/>
<path d="M355.70,661.65 H361.30"/>
<path d="M355.70,630.33 H361.30"/>
<path d="M355.70,599.00 H361.30"/>
<path d="M361.30,724.30 V729.70"/>
<path d="M392.75,724.30 V729.70"/>
<path d="M424.20,724.30 V729.70"/>
<path d="M455.65,724.30 V729.70"/>
<path d="M487.10,724.30 V729.70"/>
<path d="M518.55,724.30 V729.70"/>
<path d="M550.00,724.30 V729.70"/>
</g>
<text x="350.70" y="729.00" font-size="11.5" text-anchor="end">0</text>
<text x="350.70" y="697.68" font-size="11.5" text-anchor="end">50</text>
<text x="350.70" y="666.35" font-size="11.5" text-anchor="end">100</text>
<text x="350.70" y="635.03" font-size="11.5" text-anchor="end">150</text>
<text x="350.70" y="603.70" font-size="11.5" text-anchor="end">200</text>
<text x="361.30" y="743.10" font-size="11.2" text-anchor="middle">0.001</text>
<text x="392.75" y="743.10" font-size="11.2" text-anchor="middle">0.01</text>
<text x="424.20" y="743.10" font-size="11.2" text-anchor="middle">0.1</text>
<text x="455.65" y="743.10" font-size="11.2" text-anchor="middle">1</text>
<text x="487.10" y="743.10" font-size="11.2" text-anchor="middle">10</text>
<text x="518.55" y="743.10" font-size="11.2" text-anchor="middle">100</text>
<text x="550.00" y="743.10" font-size="11.2" text-anchor="middle">1,000</text>
<text x="453.90" y="759.80" font-size="11.6" text-anchor="middle">[UBN1] μM</text>
<text transform="translate(320.50,664.50) rotate(-90)" font-size="11.7" text-anchor="middle">Fluorescence polarization (mP)</text>
<text x="389.60" y="608.80" font-size="11.5">F138A</text>
<polyline points="386.01,632.39 387.78,632.39 389.56,632.40 391.33,632.40 393.11,632.41 394.88,632.42 396.66,632.43 398.43,632.43 400.21,632.44 401.98,632.45 403.76,632.46 405.53,632.48 407.31,632.49 409.08,632.51 410.86,632.52 412.63,632.54 414.41,632.56 416.18,632.58 417.96,632.60 419.73,632.63 421.51,632.66 423.28,632.69 425.06,632.72 426.83,632.76 428.61,632.80 430.38,632.84 432.16,632.89 433.94,632.94 435.71,633.00 437.49,633.06 439.26,633.13 441.04,633.21 442.81,633.29 444.59,633.38 446.36,633.48 448.14,633.59 449.91,633.70 451.69,633.83 453.46,633.97 455.24,634.13 457.01,634.29 458.79,634.47 460.56,634.67 462.34,634.88 464.11,635.12 465.89,635.37 467.66,635.65 469.44,635.95 471.21,636.27 472.99,636.62 474.76,637.00 476.54,637.41 478.31,637.85 480.09,638.32 481.86,638.83 483.64,639.38 485.41,639.97 487.19,640.59 488.96,641.26 490.74,641.98 492.51,642.73 494.29,643.54 496.06,644.39 497.84,645.28 499.62,646.22 501.39,647.20 503.17,648.23 504.94,649.30 506.72,650.41 508.49,651.56 510.27,652.74 512.04,653.95 513.82,655.19 515.59,656.44 517.37,657.72 519.14,659.01 520.92,660.30 522.69,661.59 524.47,662.88 526.24,664.16 528.02,665.42" fill="none" stroke="#111" stroke-width="1.3"/>
<path d="M509.08,649.10 V653.90 M506.68,649.10 H511.48 M506.68,653.90 H511.48" stroke="#111" stroke-width="1.2" fill="none"/>
<circle cx="386.01" cy="633.80" r="2.2" fill="#111"/>
<circle cx="395.47" cy="633.80" r="2.2" fill="#111"/>
<circle cx="404.94" cy="633.00" r="2.2" fill="#111"/>
<circle cx="414.41" cy="632.80" r="2.2" fill="#111"/>
<circle cx="423.88" cy="631.80" r="2.2" fill="#111"/>
<circle cx="433.34" cy="631.60" r="2.2" fill="#111"/>
<circle cx="442.81" cy="632.60" r="2.2" fill="#111"/>
<circle cx="452.28" cy="632.80" r="2.2" fill="#111"/>
<circle cx="461.75" cy="634.60" r="2.2" fill="#111"/>
<circle cx="471.21" cy="635.80" r="2.2" fill="#111"/>
<circle cx="480.68" cy="637.90" r="2.2" fill="#111"/>
<circle cx="490.15" cy="643.80" r="2.2" fill="#111"/>
<circle cx="499.62" cy="647.00" r="2.2" fill="#111"/>
<circle cx="509.08" cy="651.50" r="2.2" fill="#111"/>
<circle cx="518.55" cy="657.00" r="2.2" fill="#111"/>
<circle cx="528.02" cy="666.30" r="2.2" fill="#111"/>
<text x="383.50" y="703.70" font-size="11.5">IC<tspan font-size="8.6" dy="3.1">50</tspan><tspan dy="-3.1"> = ND</tspan></text>
</svg></body></html>
